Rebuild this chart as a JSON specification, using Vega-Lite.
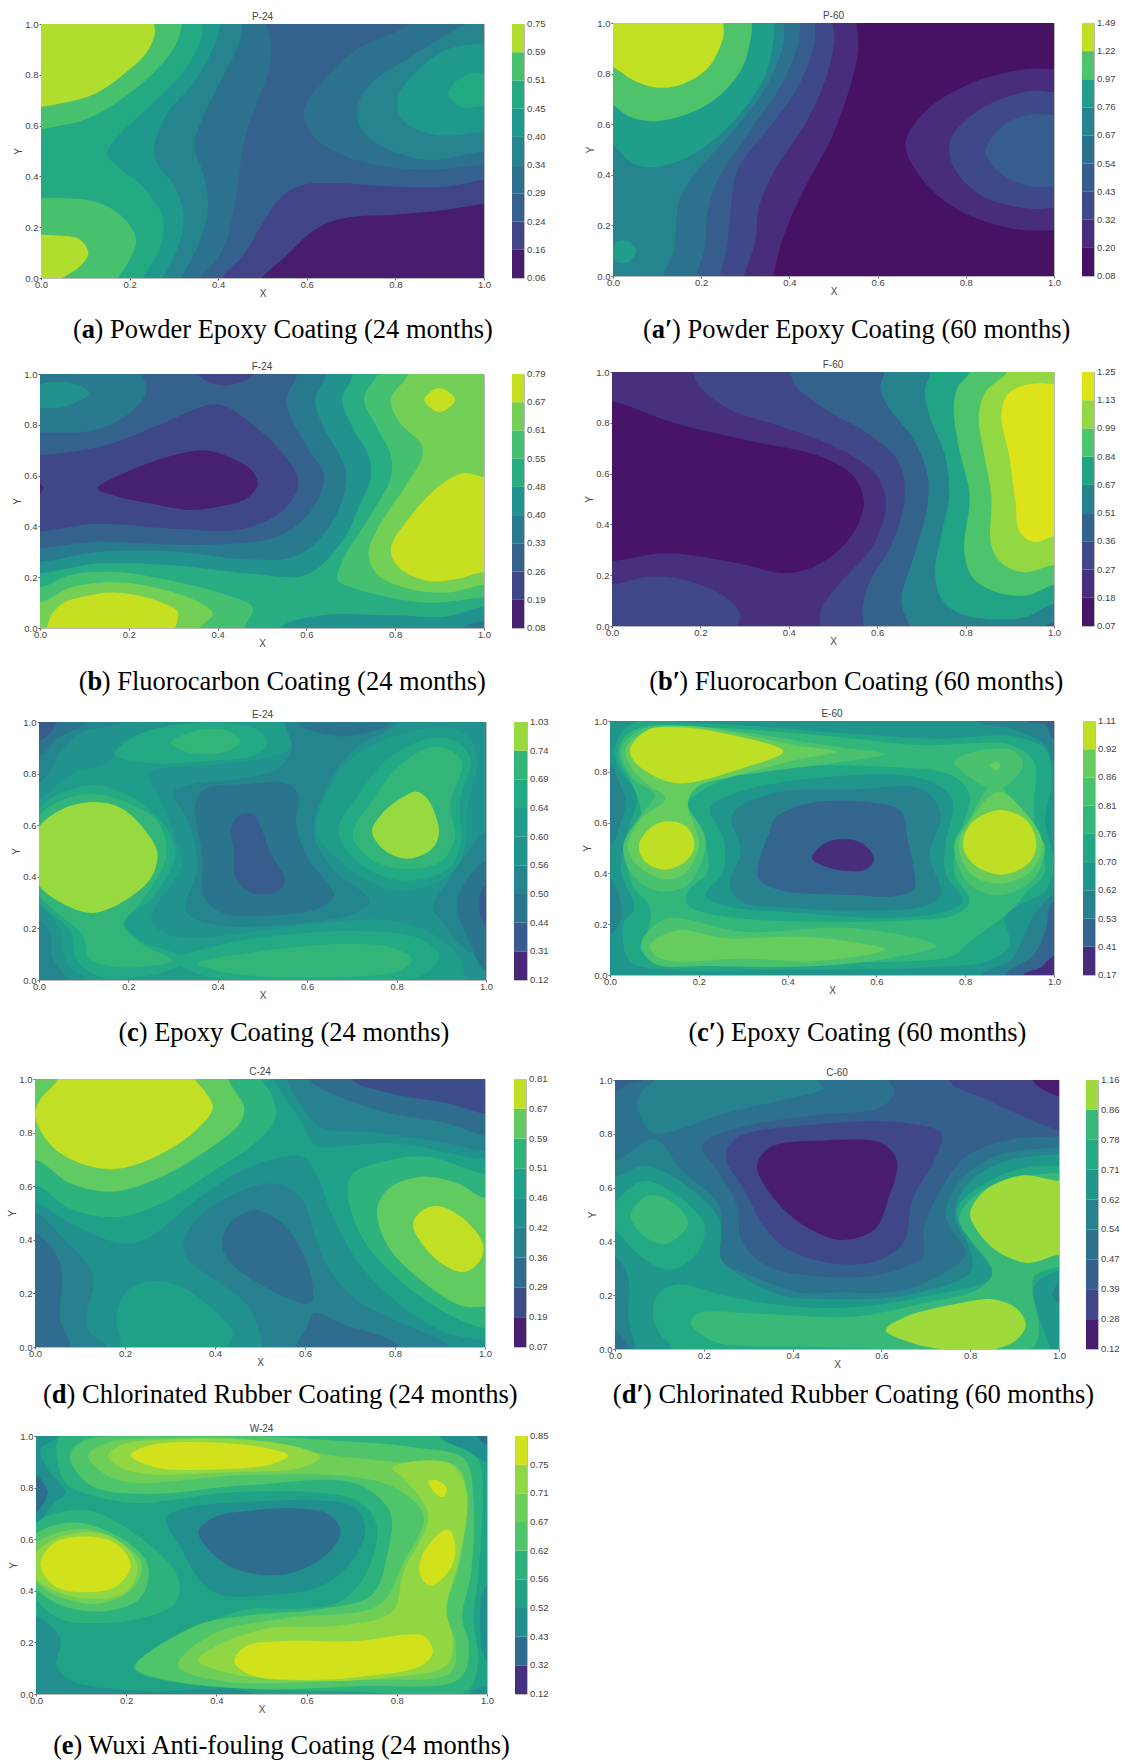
{"$schema":"https://vega.github.io/schema/vega-lite/v6.json","padding":{"left":7,"top":10,"right":0,"bottom":0},"bounds":"flush","spacing":0,"resolve":{"scale":{"color":"independent"}},"config":{"view":{"stroke":null},"title":{"font":"Liberation Sans","fontSize":10,"fontWeight":"normal","color":"#444","offset":-3},"text":{"font":"Liberation Serif","fontSize":26.5,"align":"left","baseline":"alphabetic","color":"#000"},"axis":{"grid":false,"domain":false,"tickSize":2,"tickColor":"#666","labelFont":"Liberation Sans","labelFontSize":9.5,"labelColor":"#444","titleFont":"Liberation Sans","titleFontSize":10,"titleFontWeight":"normal","titleColor":"#444","labelPadding":1,"labelOverlap":false,"labelFlush":false}},
"datasets":{
"a":[{"v":0.27,"x":-0.2,"y":-0.2},{"v":0.27,"x":1.2,"y":-0.2},{"v":0.27,"x":1.2,"y":1.2},{"v":0.27,"x":-0.2,"y":1.2},
{"v":0.32,"g":1,"x":0.36,"y":0},{"v":0.32,"g":1,"x":0.41,"y":0.11},{"v":0.32,"g":1,"x":0.435,"y":0.27},{"v":0.32,"g":1,"x":0.45,"y":0.44},{"v":0.32,"g":1,"x":0.463,"y":0.57},{"v":0.32,"g":1,"x":0.49,"y":0.7},{"v":0.32,"g":1,"x":0.516,"y":0.83},{"v":0.32,"g":1,"x":0.52,"y":0.92},{"v":0.32,"g":1,"x":0.508,"y":1},{"v":0.32,"g":1,"x":0.5,"y":1.05},{"v":0.32,"g":1,"x":-0.1,"y":1.1},{"v":0.32,"g":1,"x":-0.1,"y":-0.1},{"v":0.32,"g":1,"x":0.34,"y":-0.05},
{"v":0.32,"g":2,"x":0.83,"y":1},{"v":0.32,"g":2,"x":0.713,"y":0.9},{"v":0.32,"g":2,"x":0.633,"y":0.767},{"v":0.32,"g":2,"x":0.594,"y":0.662},{"v":0.32,"g":2,"x":0.609,"y":0.57},{"v":0.32,"g":2,"x":0.673,"y":0.49},{"v":0.32,"g":2,"x":0.754,"y":0.446},{"v":0.32,"g":2,"x":0.875,"y":0.426},{"v":0.32,"g":2,"x":1,"y":0.446},{"v":0.32,"g":2,"x":1.1,"y":0.46},{"v":0.32,"g":2,"x":1.1,"y":1.1},{"v":0.32,"g":2,"x":0.85,"y":1.08},
{"v":0.37,"g":1,"x":0.316,"y":0},{"v":0.37,"g":1,"x":0.354,"y":0.125},{"v":0.37,"g":1,"x":0.377,"y":0.282},{"v":0.37,"g":1,"x":0.366,"y":0.413},{"v":0.37,"g":1,"x":0.346,"y":0.518},{"v":0.37,"g":1,"x":0.366,"y":0.636},{"v":0.37,"g":1,"x":0.407,"y":0.78},{"v":0.37,"g":1,"x":0.447,"y":0.924},{"v":0.37,"g":1,"x":0.454,"y":1},{"v":0.37,"g":1,"x":0.45,"y":1.1},{"v":0.37,"g":1,"x":-0.1,"y":1.1},{"v":0.37,"g":1,"x":-0.1,"y":-0.1},{"v":0.37,"g":1,"x":0.3,"y":-0.06},
{"v":0.37,"g":2,"x":0.96,"y":1},{"v":0.37,"g":2,"x":0.835,"y":0.871},{"v":0.37,"g":2,"x":0.746,"y":0.767},{"v":0.37,"g":2,"x":0.713,"y":0.668},{"v":0.37,"g":2,"x":0.73,"y":0.57},{"v":0.37,"g":2,"x":0.786,"y":0.505},{"v":0.37,"g":2,"x":0.875,"y":0.465},{"v":0.37,"g":2,"x":1,"y":0.498},{"v":0.37,"g":2,"x":1.1,"y":0.5},{"v":0.37,"g":2,"x":1.1,"y":1.1},
{"v":0.43,"g":1,"x":0.274,"y":0},{"v":0.43,"g":1,"x":0.31,"y":0.125},{"v":0.43,"g":1,"x":0.322,"y":0.242},{"v":0.43,"g":1,"x":0.302,"y":0.36},{"v":0.43,"g":1,"x":0.262,"y":0.452},{"v":0.43,"g":1,"x":0.256,"y":0.518},{"v":0.43,"g":1,"x":0.286,"y":0.649},{"v":0.43,"g":1,"x":0.35,"y":0.78},{"v":0.43,"g":1,"x":0.39,"y":0.911},{"v":0.43,"g":1,"x":0.405,"y":1},{"v":0.43,"g":1,"x":0.4,"y":1.1},{"v":0.43,"g":1,"x":-0.1,"y":1.1},{"v":0.43,"g":1,"x":-0.1,"y":-0.1},{"v":0.43,"g":1,"x":0.26,"y":-0.06},
{"v":0.43,"g":2,"x":1,"y":0.924},{"v":0.43,"g":2,"x":0.915,"y":0.898},{"v":0.43,"g":2,"x":0.851,"y":0.819},{"v":0.43,"g":2,"x":0.806,"y":0.714},{"v":0.43,"g":2,"x":0.81,"y":0.636},{"v":0.43,"g":2,"x":0.851,"y":0.583},{"v":0.43,"g":2,"x":0.915,"y":0.56},{"v":0.43,"g":2,"x":1,"y":0.577},{"v":0.43,"g":2,"x":1.1,"y":0.58},{"v":0.43,"g":2,"x":1.1,"y":0.92},
{"v":0.48,"g":1,"x":0.229,"y":0},{"v":0.48,"g":1,"x":0.27,"y":0.125},{"v":0.48,"g":1,"x":0.274,"y":0.242},{"v":0.48,"g":1,"x":0.229,"y":0.36},{"v":0.48,"g":1,"x":0.173,"y":0.439},{"v":0.48,"g":1,"x":0.149,"y":0.491},{"v":0.48,"g":1,"x":0.173,"y":0.557},{"v":0.48,"g":1,"x":0.245,"y":0.675},{"v":0.48,"g":1,"x":0.318,"y":0.806},{"v":0.48,"g":1,"x":0.358,"y":0.924},{"v":0.48,"g":1,"x":0.365,"y":1},{"v":0.48,"g":1,"x":0.36,"y":1.1},{"v":0.48,"g":1,"x":-0.1,"y":1.1},{"v":0.48,"g":1,"x":-0.1,"y":-0.1},{"v":0.48,"g":1,"x":0.21,"y":-0.06},
{"v":0.48,"g":2,"x":1,"y":0.806},{"v":0.48,"g":2,"x":0.956,"y":0.796},{"v":0.48,"g":2,"x":0.919,"y":0.727},{"v":0.48,"g":2,"x":0.947,"y":0.675},{"v":0.48,"g":2,"x":1,"y":0.681},{"v":0.48,"g":2,"x":1.05,"y":0.74},
{"v":0.55,"g":1,"x":-0.05,"y":0.6},{"v":0.55,"g":1,"x":0.052,"y":0.603},{"v":0.55,"g":1,"x":0.116,"y":0.636},{"v":0.55,"g":1,"x":0.189,"y":0.714},{"v":0.55,"g":1,"x":0.253,"y":0.806},{"v":0.55,"g":1,"x":0.302,"y":0.911},{"v":0.55,"g":1,"x":0.318,"y":1},{"v":0.55,"g":1,"x":0.31,"y":1.1},{"v":0.55,"g":1,"x":-0.1,"y":1.1},
{"v":0.55,"g":2,"x":-0.05,"y":0.28},{"v":0.55,"g":2,"x":0.08,"y":0.312},{"v":0.55,"g":2,"x":0.149,"y":0.282},{"v":0.55,"g":2,"x":0.197,"y":0.216},{"v":0.55,"g":2,"x":0.215,"y":0.144},{"v":0.55,"g":2,"x":0.2,"y":0.072},{"v":0.55,"g":2,"x":0.173,"y":0},{"v":0.55,"g":2,"x":0.15,"y":-0.06},{"v":0.55,"g":2,"x":-0.1,"y":-0.1},
{"v":0.67,"g":1,"x":-0.05,"y":0.688},{"v":0.67,"g":1,"x":0.052,"y":0.69},{"v":0.67,"g":1,"x":0.124,"y":0.727},{"v":0.67,"g":1,"x":0.189,"y":0.806},{"v":0.67,"g":1,"x":0.237,"y":0.885},{"v":0.67,"g":1,"x":0.257,"y":0.962},{"v":0.67,"g":1,"x":0.255,"y":1},{"v":0.67,"g":1,"x":0.24,"y":1.1},{"v":0.67,"g":1,"x":-0.1,"y":1.1},
{"v":0.67,"g":2,"x":-0.05,"y":0.15},{"v":0.67,"g":2,"x":0.048,"y":0.166},{"v":0.67,"g":2,"x":0.088,"y":0.151},{"v":0.67,"g":2,"x":0.107,"y":0.098},{"v":0.67,"g":2,"x":0.088,"y":0.046},{"v":0.67,"g":2,"x":0.048,"y":0},{"v":0.67,"g":2,"x":0.02,"y":-0.03},{"v":0.67,"g":2,"x":-0.1,"y":-0.05},
{"v":0.2,"x":0.407,"y":0},{"v":0.2,"x":0.455,"y":0.085},{"v":0.2,"x":0.496,"y":0.203},{"v":0.2,"x":0.544,"y":0.321},{"v":0.2,"x":0.592,"y":0.367},{"v":0.2,"x":0.673,"y":0.373},{"v":0.2,"x":0.794,"y":0.36},{"v":0.2,"x":0.915,"y":0.36},{"v":0.2,"x":1,"y":0.387},{"v":0.2,"x":1.1,"y":0.39},{"v":0.2,"x":1.1,"y":-0.1},{"v":0.2,"x":0.4,"y":-0.06},
{"v":0.11,"x":0.497,"y":0},{"v":0.11,"x":0.552,"y":0.085},{"v":0.11,"x":0.608,"y":0.177},{"v":0.11,"x":0.657,"y":0.223},{"v":0.11,"x":0.713,"y":0.242},{"v":0.11,"x":0.794,"y":0.249},{"v":0.11,"x":0.915,"y":0.269},{"v":0.11,"x":1,"y":0.291},{"v":0.11,"x":1.1,"y":0.3},{"v":0.11,"x":1.1,"y":-0.1},{"v":0.11,"x":0.47,"y":-0.06}],
"ap":[{"v":0.14,"x":-0.2,"y":-0.2},{"v":0.14,"x":1.2,"y":-0.2},{"v":0.14,"x":1.2,"y":1.2},{"v":0.14,"x":-0.2,"y":1.2},
{"v":0.26,"x":0.553,"y":1},{"v":0.26,"x":0.556,"y":0.892},{"v":0.26,"x":0.533,"y":0.721},{"v":0.26,"x":0.493,"y":0.536},{"v":0.26,"x":0.444,"y":0.378},{"v":0.26,"x":0.404,"y":0.233},{"v":0.26,"x":0.379,"y":0.115},{"v":0.26,"x":0.363,"y":0},{"v":0.26,"x":0.35,"y":-0.1},{"v":0.26,"x":-0.1,"y":-0.1},{"v":0.26,"x":-0.1,"y":1.1},{"v":0.26,"x":0.55,"y":1.1},
{"v":0.38,"x":0.498,"y":1},{"v":0.38,"x":0.502,"y":0.93},{"v":0.38,"x":0.481,"y":0.773},{"v":0.38,"x":0.436,"y":0.602},{"v":0.38,"x":0.371,"y":0.431},{"v":0.38,"x":0.331,"y":0.273},{"v":0.38,"x":0.323,"y":0.141},{"v":0.38,"x":0.297,"y":0},{"v":0.38,"x":0.28,"y":-0.1},{"v":0.38,"x":-0.1,"y":-0.1},{"v":0.38,"x":-0.1,"y":1.1},{"v":0.38,"x":0.49,"y":1.1},
{"v":0.49,"x":0.458,"y":1},{"v":0.49,"x":0.456,"y":0.918},{"v":0.49,"x":0.42,"y":0.747},{"v":0.49,"x":0.355,"y":0.589},{"v":0.49,"x":0.282,"y":0.418},{"v":0.49,"x":0.266,"y":0.246},{"v":0.49,"x":0.258,"y":0.115},{"v":0.49,"x":0.243,"y":0},{"v":0.49,"x":0.23,"y":-0.1},{"v":0.49,"x":-0.1,"y":-0.1},{"v":0.49,"x":-0.1,"y":1.1},{"v":0.49,"x":0.45,"y":1.1},
{"v":0.61,"x":0.424,"y":1},{"v":0.61,"x":0.42,"y":0.918},{"v":0.61,"x":0.379,"y":0.747},{"v":0.61,"x":0.306,"y":0.563},{"v":0.61,"x":0.233,"y":0.365},{"v":0.61,"x":0.213,"y":0.233},{"v":0.61,"x":0.209,"y":0.115},{"v":0.61,"x":0.189,"y":0},{"v":0.61,"x":0.18,"y":-0.1},{"v":0.61,"x":-0.1,"y":-0.1},{"v":0.61,"x":-0.1,"y":1.1},{"v":0.61,"x":0.42,"y":1.1},
{"v":0.72,"x":0.387,"y":1},{"v":0.72,"x":0.386,"y":0.918},{"v":0.72,"x":0.347,"y":0.747},{"v":0.72,"x":0.274,"y":0.576},{"v":0.72,"x":0.193,"y":0.418},{"v":0.72,"x":0.152,"y":0.312},{"v":0.72,"x":0.143,"y":0.194},{"v":0.72,"x":0.136,"y":0.088},{"v":0.72,"x":0.112,"y":0},{"v":0.72,"x":0.1,"y":-0.1},{"v":0.72,"x":-0.1,"y":-0.1},{"v":0.72,"x":-0.1,"y":1.1},{"v":0.72,"x":0.38,"y":1.1},
{"v":0.87,"x":0.365,"y":1},{"v":0.87,"x":0.365,"y":0.958},{"v":0.87,"x":0.347,"y":0.8},{"v":0.87,"x":0.282,"y":0.628},{"v":0.87,"x":0.185,"y":0.484},{"v":0.87,"x":0.096,"y":0.431},{"v":0.87,"x":0.047,"y":0.444},{"v":0.87,"x":0,"y":0.516},{"v":0.87,"x":-0.1,"y":0.6},{"v":0.87,"x":-0.1,"y":1.1},{"v":0.87,"x":0.36,"y":1.1},
{"v":0.87,"g":1,"x":-0.01,"y":0.09},{"v":0.87,"g":1,"x":0.01,"y":0.135},{"v":0.87,"g":1,"x":0.035,"y":0.137},{"v":0.87,"g":1,"x":0.053,"y":0.1},{"v":0.87,"g":1,"x":0.035,"y":0.055},{"v":0.87,"g":1,"x":0.01,"y":0.055},
{"v":1.1,"x":0.314,"y":1},{"v":1.1,"x":0.314,"y":0.958},{"v":1.1,"x":0.29,"y":0.813},{"v":1.1,"x":0.217,"y":0.681},{"v":1.1,"x":0.104,"y":0.613},{"v":1.1,"x":0.039,"y":0.628},{"v":1.1,"x":0,"y":0.675},{"v":1.1,"x":-0.1,"y":0.75},{"v":1.1,"x":-0.1,"y":1.1},{"v":1.1,"x":0.31,"y":1.1},
{"v":1.36,"x":0.25,"y":1},{"v":1.36,"x":0.25,"y":0.945},{"v":1.36,"x":0.217,"y":0.826},{"v":1.36,"x":0.16,"y":0.76},{"v":1.36,"x":0.104,"y":0.744},{"v":1.36,"x":0.047,"y":0.773},{"v":1.36,"x":0,"y":0.826},{"v":1.36,"x":-0.1,"y":0.9},{"v":1.36,"x":-0.1,"y":1.1},{"v":1.36,"x":0.24,"y":1.1},
{"v":0.26,"g":1,"x":1,"y":0.817},{"v":0.26,"g":1,"x":0.93,"y":0.816},{"v":0.26,"g":1,"x":0.809,"y":0.76},{"v":0.26,"g":1,"x":0.711,"y":0.655},{"v":0.26,"g":1,"x":0.663,"y":0.523},{"v":0.26,"g":1,"x":0.703,"y":0.378},{"v":0.26,"g":1,"x":0.784,"y":0.26},{"v":0.26,"g":1,"x":0.906,"y":0.187},{"v":0.26,"g":1,"x":1,"y":0.18},{"v":0.26,"g":1,"x":1.1,"y":0.18},{"v":0.26,"g":1,"x":1.1,"y":0.82},
{"v":0.38,"g":1,"x":1,"y":0.727},{"v":0.38,"g":1,"x":0.947,"y":0.731},{"v":0.38,"g":1,"x":0.841,"y":0.668},{"v":0.38,"g":1,"x":0.772,"y":0.563},{"v":0.38,"g":1,"x":0.762,"y":0.51},{"v":0.38,"g":1,"x":0.776,"y":0.418},{"v":0.38,"g":1,"x":0.841,"y":0.312},{"v":0.38,"g":1,"x":0.947,"y":0.266},{"v":0.38,"g":1,"x":1,"y":0.269},{"v":0.38,"g":1,"x":1.1,"y":0.27},{"v":0.38,"g":1,"x":1.1,"y":0.73},
{"v":0.49,"g":1,"x":1,"y":0.635},{"v":0.49,"g":1,"x":0.955,"y":0.639},{"v":0.49,"g":1,"x":0.89,"y":0.602},{"v":0.49,"g":1,"x":0.845,"y":0.497},{"v":0.49,"g":1,"x":0.874,"y":0.411},{"v":0.49,"g":1,"x":0.938,"y":0.358},{"v":0.49,"g":1,"x":1,"y":0.354},{"v":0.49,"g":1,"x":1.1,"y":0.35},{"v":0.49,"g":1,"x":1.1,"y":0.64}],
"b":[{"v":0.52,"x":-0.2,"y":-0.2},{"v":0.52,"x":1.2,"y":-0.2},{"v":0.52,"x":1.2,"y":1.2},{"v":0.52,"x":-0.2,"y":1.2},
{"v":0.58,"g":1,"x":0.76,"y":1},{"v":0.58,"g":1,"x":0.73,"y":0.904},{"v":0.58,"g":1,"x":0.76,"y":0.786},{"v":0.58,"g":1,"x":0.79,"y":0.68},{"v":0.58,"g":1,"x":0.79,"y":0.59},{"v":0.58,"g":1,"x":0.75,"y":0.46},{"v":0.58,"g":1,"x":0.68,"y":0.26},{"v":0.58,"g":1,"x":0.67,"y":0.19},{"v":0.58,"g":1,"x":0.71,"y":0.155},{"v":0.58,"g":1,"x":0.87,"y":0.1},{"v":0.58,"g":1,"x":1,"y":0.12},{"v":0.58,"g":1,"x":1.1,"y":0.12},{"v":0.58,"g":1,"x":1.1,"y":1.1},{"v":0.58,"g":1,"x":0.77,"y":1.1},
{"v":0.58,"g":2,"x":0,"y":0.16},{"v":0.58,"g":2,"x":0.07,"y":0.21},{"v":0.58,"g":2,"x":0.175,"y":0.22},{"v":0.58,"g":2,"x":0.31,"y":0.18},{"v":0.58,"g":2,"x":0.42,"y":0.13},{"v":0.58,"g":2,"x":0.48,"y":0.08},{"v":0.58,"g":2,"x":0.46,"y":0},{"v":0.58,"g":2,"x":0.45,"y":-0.1},{"v":0.58,"g":2,"x":-0.1,"y":-0.1},{"v":0.58,"g":2,"x":-0.1,"y":0.16},
{"v":0.64,"g":1,"x":0.83,"y":1},{"v":0.64,"g":1,"x":0.79,"y":0.9},{"v":0.64,"g":1,"x":0.81,"y":0.81},{"v":0.64,"g":1,"x":0.86,"y":0.72},{"v":0.64,"g":1,"x":0.86,"y":0.67},{"v":0.64,"g":1,"x":0.82,"y":0.55},{"v":0.64,"g":1,"x":0.76,"y":0.39},{"v":0.64,"g":1,"x":0.74,"y":0.29},{"v":0.64,"g":1,"x":0.76,"y":0.21},{"v":0.64,"g":1,"x":0.83,"y":0.155},{"v":0.64,"g":1,"x":0.92,"y":0.14},{"v":0.64,"g":1,"x":1,"y":0.17},{"v":0.64,"g":1,"x":1.1,"y":0.17},{"v":0.64,"g":1,"x":1.1,"y":1.1},{"v":0.64,"g":1,"x":0.84,"y":1.1},
{"v":0.64,"g":2,"x":0,"y":0.1},{"v":0.64,"g":2,"x":0.07,"y":0.16},{"v":0.64,"g":2,"x":0.17,"y":0.18},{"v":0.64,"g":2,"x":0.27,"y":0.155},{"v":0.64,"g":2,"x":0.36,"y":0.1},{"v":0.64,"g":2,"x":0.39,"y":0.055},{"v":0.64,"g":2,"x":0.36,"y":0},{"v":0.64,"g":2,"x":0.35,"y":-0.1},{"v":0.64,"g":2,"x":-0.1,"y":-0.1},{"v":0.64,"g":2,"x":-0.1,"y":0.1},
{"v":0.73,"g":1,"x":1,"y":0.595},{"v":0.73,"g":1,"x":0.955,"y":0.61},{"v":0.73,"g":1,"x":0.9,"y":0.56},{"v":0.73,"g":1,"x":0.83,"y":0.43},{"v":0.73,"g":1,"x":0.79,"y":0.31},{"v":0.73,"g":1,"x":0.81,"y":0.235},{"v":0.73,"g":1,"x":0.875,"y":0.185},{"v":0.73,"g":1,"x":0.945,"y":0.195},{"v":0.73,"g":1,"x":1,"y":0.22},{"v":0.73,"g":1,"x":1.1,"y":0.2},{"v":0.73,"g":1,"x":1.1,"y":0.6},
{"v":0.73,"g":2,"x":0.865,"y":0.9},{"v":0.73,"g":2,"x":0.9,"y":0.945},{"v":0.73,"g":2,"x":0.935,"y":0.9},{"v":0.73,"g":2,"x":0.9,"y":0.85},
{"v":0.73,"g":3,"x":0.02,"y":-0.03},{"v":0.73,"g":3,"x":0.02,"y":0.03},{"v":0.73,"g":3,"x":0.05,"y":0.095},{"v":0.73,"g":3,"x":0.1,"y":0.125},{"v":0.73,"g":3,"x":0.165,"y":0.14},{"v":0.73,"g":3,"x":0.25,"y":0.115},{"v":0.73,"g":3,"x":0.31,"y":0.065},{"v":0.73,"g":3,"x":0.31,"y":0.035},{"v":0.73,"g":3,"x":0.29,"y":-0.03},
{"v":0.44,"g":1,"x":0.705,"y":1},{"v":0.44,"g":1,"x":0.68,"y":0.9},{"v":0.44,"g":1,"x":0.705,"y":0.786},{"v":0.44,"g":1,"x":0.74,"y":0.68},{"v":0.44,"g":1,"x":0.745,"y":0.59},{"v":0.44,"g":1,"x":0.72,"y":0.485},{"v":0.44,"g":1,"x":0.68,"y":0.34},{"v":0.44,"g":1,"x":0.6,"y":0.21},{"v":0.44,"g":1,"x":0.47,"y":0.215},{"v":0.44,"g":1,"x":0.31,"y":0.245},{"v":0.44,"g":1,"x":0.135,"y":0.255},{"v":0.44,"g":1,"x":0,"y":0.215},{"v":0.44,"g":1,"x":-0.1,"y":0.215},{"v":0.44,"g":1,"x":-0.1,"y":1.1},{"v":0.44,"g":1,"x":0.7,"y":1.1},
{"v":0.44,"g":2,"x":0.54,"y":0},{"v":0.44,"g":2,"x":0.635,"y":0.05},{"v":0.44,"g":2,"x":0.795,"y":0.05},{"v":0.44,"g":2,"x":0.915,"y":0.045},{"v":0.44,"g":2,"x":1,"y":0.085},{"v":0.44,"g":2,"x":1.1,"y":0.09},{"v":0.44,"g":2,"x":1.1,"y":-0.1},{"v":0.44,"g":2,"x":0.52,"y":-0.1},
{"v":0.37,"g":1,"x":0.645,"y":1},{"v":0.37,"g":1,"x":0.62,"y":0.9},{"v":0.37,"g":1,"x":0.64,"y":0.786},{"v":0.37,"g":1,"x":0.675,"y":0.68},{"v":0.37,"g":1,"x":0.69,"y":0.6},{"v":0.37,"g":1,"x":0.66,"y":0.42},{"v":0.37,"g":1,"x":0.58,"y":0.285},{"v":0.37,"g":1,"x":0.47,"y":0.27},{"v":0.37,"g":1,"x":0.31,"y":0.3},{"v":0.37,"g":1,"x":0.135,"y":0.3},{"v":0.37,"g":1,"x":0,"y":0.26},{"v":0.37,"g":1,"x":-0.1,"y":0.26},{"v":0.37,"g":1,"x":-0.1,"y":1.1},{"v":0.37,"g":1,"x":0.64,"y":1.1},
{"v":0.37,"g":2,"x":0.955,"y":0},{"v":0.37,"g":2,"x":1,"y":0.03},{"v":0.37,"g":2,"x":1.1,"y":0.03},{"v":0.37,"g":2,"x":1.1,"y":-0.1},{"v":0.37,"g":2,"x":0.94,"y":-0.1},
{"v":0.44,"g":3,"x":-0.02,"y":0.94},{"v":0.44,"g":3,"x":0.05,"y":0.97},{"v":0.44,"g":3,"x":0.105,"y":0.94},{"v":0.44,"g":3,"x":0.11,"y":0.92},{"v":0.44,"g":3,"x":0.07,"y":0.88},{"v":0.44,"g":3,"x":0.03,"y":0.865},{"v":0.44,"g":3,"x":-0.02,"y":0.88},
{"v":0.3,"x":0.58,"y":1},{"v":0.3,"x":0.555,"y":0.9},{"v":0.3,"x":0.57,"y":0.81},{"v":0.3,"x":0.61,"y":0.69},{"v":0.3,"x":0.64,"y":0.6},{"v":0.3,"x":0.61,"y":0.46},{"v":0.3,"x":0.535,"y":0.36},{"v":0.3,"x":0.41,"y":0.33},{"v":0.3,"x":0.27,"y":0.33},{"v":0.3,"x":0.125,"y":0.34},{"v":0.3,"x":0,"y":0.315},{"v":0.3,"x":-0.1,"y":0.315},{"v":0.3,"x":-0.1,"y":0.77},{"v":0.3,"x":0,"y":0.77},{"v":0.3,"x":0.11,"y":0.775},{"v":0.3,"x":0.19,"y":0.83},{"v":0.3,"x":0.24,"y":0.93},{"v":0.3,"x":0.23,"y":1},{"v":0.3,"x":0.23,"y":1.1},{"v":0.3,"x":0.58,"y":1.1},
{"v":0.23,"g":1,"x":0,"y":0.38},{"v":0.23,"g":1,"x":0.125,"y":0.41},{"v":0.23,"g":1,"x":0.31,"y":0.39},{"v":0.23,"g":1,"x":0.455,"y":0.39},{"v":0.23,"g":1,"x":0.545,"y":0.46},{"v":0.23,"g":1,"x":0.58,"y":0.55},{"v":0.23,"g":1,"x":0.58,"y":0.6},{"v":0.23,"g":1,"x":0.545,"y":0.69},{"v":0.23,"g":1,"x":0.49,"y":0.785},{"v":0.23,"g":1,"x":0.4,"y":0.88},{"v":0.23,"g":1,"x":0.27,"y":0.8},{"v":0.23,"g":1,"x":0.15,"y":0.72},{"v":0.23,"g":1,"x":0,"y":0.68},{"v":0.23,"g":1,"x":-0.1,"y":0.68},{"v":0.23,"g":1,"x":-0.1,"y":0.38},
{"v":0.23,"g":2,"x":0.355,"y":1},{"v":0.23,"g":2,"x":0.415,"y":0.955},{"v":0.23,"g":2,"x":0.48,"y":1},{"v":0.23,"g":2,"x":0.48,"y":1.1},{"v":0.23,"g":2,"x":0.355,"y":1.1},
{"v":0.14,"g":1,"x":0.13,"y":0.55},{"v":0.14,"g":1,"x":0.19,"y":0.61},{"v":0.14,"g":1,"x":0.29,"y":0.675},{"v":0.14,"g":1,"x":0.37,"y":0.7},{"v":0.14,"g":1,"x":0.43,"y":0.67},{"v":0.14,"g":1,"x":0.48,"y":0.615},{"v":0.14,"g":1,"x":0.49,"y":0.56},{"v":0.14,"g":1,"x":0.465,"y":0.51},{"v":0.14,"g":1,"x":0.41,"y":0.48},{"v":0.14,"g":1,"x":0.335,"y":0.465},{"v":0.14,"g":1,"x":0.25,"y":0.49},{"v":0.14,"g":1,"x":0.17,"y":0.52},
{"v":0.14,"g":2,"x":-0.01,"y":0.58},{"v":0.14,"g":2,"x":0.008,"y":0.55},{"v":0.14,"g":2,"x":-0.01,"y":0.52}],
"bp":[{"v":0.23,"x":-0.2,"y":-0.2},{"v":0.23,"x":1.2,"y":-0.2},{"v":0.23,"x":1.2,"y":1.2},{"v":0.23,"x":-0.2,"y":1.2},
{"v":0.13,"x":0,"y":0.885},{"v":0.13,"x":0.139,"y":0.8},{"v":0.13,"x":0.317,"y":0.727},{"v":0.13,"x":0.462,"y":0.673},{"v":0.13,"x":0.543,"y":0.595},{"v":0.13,"x":0.57,"y":0.49},{"v":0.13,"x":0.543,"y":0.358},{"v":0.13,"x":0.478,"y":0.253},{"v":0.13,"x":0.397,"y":0.208},{"v":0.13,"x":0.284,"y":0.247},{"v":0.13,"x":0.123,"y":0.286},{"v":0.13,"x":0,"y":0.256},{"v":0.13,"x":-0.1,"y":0.26},{"v":0.13,"x":-0.1,"y":0.89},
{"v":0.32,"g":1,"x":0.185,"y":1},{"v":0.32,"g":1,"x":0.195,"y":0.95},{"v":0.32,"g":1,"x":0.26,"y":0.858},{"v":0.32,"g":1,"x":0.381,"y":0.786},{"v":0.32,"g":1,"x":0.502,"y":0.707},{"v":0.32,"g":1,"x":0.591,"y":0.608},{"v":0.32,"g":1,"x":0.62,"y":0.49},{"v":0.32,"g":1,"x":0.591,"y":0.319},{"v":0.32,"g":1,"x":0.519,"y":0.175},{"v":0.32,"g":1,"x":0.474,"y":0.07},{"v":0.32,"g":1,"x":0.47,"y":0},{"v":0.32,"g":1,"x":0.47,"y":-0.1},{"v":0.32,"g":1,"x":1.1,"y":-0.1},{"v":0.32,"g":1,"x":1.1,"y":1.1},{"v":0.32,"g":1,"x":0.185,"y":1.1},
{"v":0.32,"g":2,"x":0,"y":0.162},{"v":0.32,"g":2,"x":0.09,"y":0.195},{"v":0.32,"g":2,"x":0.179,"y":0.175},{"v":0.32,"g":2,"x":0.26,"y":0.109},{"v":0.32,"g":2,"x":0.292,"y":0.042},{"v":0.32,"g":2,"x":0.283,"y":0},{"v":0.32,"g":2,"x":0.28,"y":-0.1},{"v":0.32,"g":2,"x":-0.1,"y":-0.1},{"v":0.32,"g":2,"x":-0.1,"y":0.16},
{"v":0.44,"x":0.404,"y":1},{"v":0.44,"x":0.414,"y":0.95},{"v":0.44,"x":0.478,"y":0.858},{"v":0.44,"x":0.583,"y":0.753},{"v":0.44,"x":0.648,"y":0.648},{"v":0.44,"x":0.662,"y":0.503},{"v":0.44,"x":0.632,"y":0.319},{"v":0.44,"x":0.583,"y":0.175},{"v":0.44,"x":0.567,"y":0.07},{"v":0.44,"x":0.569,"y":0},{"v":0.44,"x":0.57,"y":-0.1},{"v":0.44,"x":1.1,"y":-0.1},{"v":0.44,"x":1.1,"y":1.1},{"v":0.44,"x":0.404,"y":1.1},
{"v":0.59,"x":0.616,"y":1},{"v":0.59,"x":0.607,"y":0.937},{"v":0.59,"x":0.632,"y":0.845},{"v":0.59,"x":0.68,"y":0.74},{"v":0.59,"x":0.712,"y":0.608},{"v":0.59,"x":0.714,"y":0.477},{"v":0.59,"x":0.684,"y":0.28},{"v":0.59,"x":0.656,"y":0.122},{"v":0.59,"x":0.66,"y":0.056},{"v":0.59,"x":0.674,"y":0},{"v":0.59,"x":0.68,"y":-0.1},{"v":0.59,"x":1.1,"y":-0.1},{"v":0.59,"x":1.1,"y":1.1},{"v":0.59,"x":0.616,"y":1.1},
{"v":0.76,"x":0.72,"y":1},{"v":0.76,"x":0.708,"y":0.924},{"v":0.76,"x":0.72,"y":0.819},{"v":0.76,"x":0.753,"y":0.674},{"v":0.76,"x":0.763,"y":0.516},{"v":0.76,"x":0.745,"y":0.358},{"v":0.76,"x":0.731,"y":0.214},{"v":0.76,"x":0.745,"y":0.109},{"v":0.76,"x":0.785,"y":0.05},{"v":0.76,"x":0.866,"y":0.026},{"v":0.76,"x":0.939,"y":0.037},{"v":0.76,"x":1,"y":0.089},{"v":0.76,"x":1.1,"y":0.09},{"v":0.76,"x":1.1,"y":1.1},{"v":0.76,"x":0.72,"y":1.1},
{"v":0.92,"x":0.809,"y":1},{"v":0.92,"x":0.781,"y":0.937},{"v":0.92,"x":0.773,"y":0.858},{"v":0.92,"x":0.785,"y":0.7},{"v":0.92,"x":0.809,"y":0.516},{"v":0.92,"x":0.797,"y":0.293},{"v":0.92,"x":0.817,"y":0.188},{"v":0.92,"x":0.866,"y":0.136},{"v":0.92,"x":0.939,"y":0.12},{"v":0.92,"x":1,"y":0.162},{"v":0.92,"x":1.1,"y":0.17},{"v":0.92,"x":1.1,"y":1.1},{"v":0.92,"x":0.81,"y":1.1},
{"v":1.06,"x":0.893,"y":1},{"v":1.06,"x":0.846,"y":0.924},{"v":1.06,"x":0.83,"y":0.832},{"v":1.06,"x":0.842,"y":0.674},{"v":1.06,"x":0.858,"y":0.516},{"v":1.06,"x":0.858,"y":0.319},{"v":1.06,"x":0.882,"y":0.247},{"v":1.06,"x":0.931,"y":0.212},{"v":1.06,"x":1,"y":0.24},{"v":1.06,"x":1.1,"y":0.25},{"v":1.06,"x":1.1,"y":1.1},{"v":1.06,"x":0.895,"y":1.1},
{"v":1.19,"x":1,"y":0.953},{"v":1.19,"x":0.947,"y":0.953},{"v":1.19,"x":0.898,"y":0.917},{"v":1.19,"x":0.881,"y":0.832},{"v":1.19,"x":0.898,"y":0.674},{"v":1.19,"x":0.913,"y":0.49},{"v":1.19,"x":0.922,"y":0.372},{"v":1.19,"x":0.955,"y":0.33},{"v":1.19,"x":1,"y":0.352},{"v":1.19,"x":1.1,"y":0.36},{"v":1.19,"x":1.1,"y":0.95},
{"v":0.44,"g":1,"x":0.98,"y":0},{"v":0.44,"g":1,"x":1,"y":0.012},{"v":0.44,"g":1,"x":1.05,"y":0.01},{"v":0.44,"g":1,"x":1.05,"y":-0.05},{"v":0.44,"g":1,"x":0.97,"y":-0.05}],
"c":[{"v":0.62,"x":-0.2,"y":-0.2},{"v":0.62,"x":1.2,"y":-0.2},{"v":0.62,"x":1.2,"y":1.2},{"v":0.62,"x":-0.2,"y":1.2},
{"v":0.58,"x":0,"y":0.705},{"v":0.58,"x":0.07,"y":0.795},{"v":0.58,"x":0.16,"y":0.85},{"v":0.58,"x":0.19,"y":0.925},{"v":0.58,"x":0.29,"y":0.985},{"v":0.58,"x":0.36,"y":1},{"v":0.58,"x":0.36,"y":1.1},{"v":0.58,"x":-0.1,"y":1.1},{"v":0.58,"x":-0.1,"y":0.705},
{"v":0.53,"x":0,"y":0.765},{"v":0.53,"x":0.055,"y":0.9},{"v":0.53,"x":0.1,"y":0.965},{"v":0.53,"x":0.185,"y":1},{"v":0.53,"x":0.185,"y":1.1},{"v":0.53,"x":-0.1,"y":1.1},{"v":0.53,"x":-0.1,"y":0.765},
{"v":0.47,"x":0,"y":0.865},{"v":0.47,"x":0.04,"y":0.935},{"v":0.47,"x":0.105,"y":1},{"v":0.47,"x":0.105,"y":1.1},{"v":0.47,"x":-0.1,"y":1.1},{"v":0.47,"x":-0.1,"y":0.865},
{"v":0.38,"x":0,"y":0.925},{"v":0.38,"x":0.04,"y":1},{"v":0.38,"x":0.04,"y":1.1},{"v":0.38,"x":-0.1,"y":1.1},{"v":0.38,"x":-0.1,"y":0.925},
{"v":0.58,"g":1,"x":0.535,"y":1.04},{"v":0.58,"g":1,"x":0.56,"y":0.99},{"v":0.58,"g":1,"x":0.57,"y":0.905},{"v":0.58,"g":1,"x":0.505,"y":0.86},{"v":0.58,"g":1,"x":0.39,"y":0.835},{"v":0.58,"g":1,"x":0.245,"y":0.8},{"v":0.58,"g":1,"x":0.27,"y":0.705},{"v":0.58,"g":1,"x":0.305,"y":0.55},{"v":0.58,"g":1,"x":0.32,"y":0.45},{"v":0.58,"g":1,"x":0.265,"y":0.295},{"v":0.58,"g":1,"x":0.25,"y":0.23},{"v":0.58,"g":1,"x":0.29,"y":0.175},{"v":0.58,"g":1,"x":0.36,"y":0.165},{"v":0.58,"g":1,"x":0.49,"y":0.19},{"v":0.58,"g":1,"x":0.625,"y":0.22},{"v":0.58,"g":1,"x":0.79,"y":0.23},{"v":0.58,"g":1,"x":0.895,"y":0.165},{"v":0.58,"g":1,"x":0.94,"y":0.085},{"v":0.58,"g":1,"x":0.96,"y":0},{"v":0.58,"g":1,"x":1.1,"y":0},{"v":0.58,"g":1,"x":1.1,"y":1.04},
{"v":0.53,"g":1,"x":0.3,"y":0.725},{"v":0.53,"g":1,"x":0.345,"y":0.76},{"v":0.53,"g":1,"x":0.43,"y":0.775},{"v":0.53,"g":1,"x":0.535,"y":0.82},{"v":0.53,"g":1,"x":0.565,"y":0.905},{"v":0.53,"g":1,"x":0.55,"y":0.99},{"v":0.53,"g":1,"x":0.545,"y":1.04},{"v":0.53,"g":1,"x":0.82,"y":1.04},{"v":0.53,"g":1,"x":0.8,"y":0.99},{"v":0.53,"g":1,"x":0.71,"y":0.9},{"v":0.53,"g":1,"x":0.65,"y":0.77},{"v":0.53,"g":1,"x":0.615,"y":0.575},{"v":0.53,"g":1,"x":0.655,"y":0.435},{"v":0.53,"g":1,"x":0.74,"y":0.305},{"v":0.53,"g":1,"x":0.71,"y":0.26},{"v":0.53,"g":1,"x":0.55,"y":0.215},{"v":0.53,"g":1,"x":0.39,"y":0.215},{"v":0.53,"g":1,"x":0.33,"y":0.265},{"v":0.53,"g":1,"x":0.355,"y":0.45},{"v":0.53,"g":1,"x":0.33,"y":0.63},
{"v":0.47,"g":1,"x":0.35,"y":0.68},{"v":0.47,"g":1,"x":0.37,"y":0.74},{"v":0.47,"g":1,"x":0.47,"y":0.76},{"v":0.47,"g":1,"x":0.55,"y":0.765},{"v":0.47,"g":1,"x":0.58,"y":0.72},{"v":0.47,"g":1,"x":0.575,"y":0.615},{"v":0.47,"g":1,"x":0.6,"y":0.475},{"v":0.47,"g":1,"x":0.66,"y":0.33},{"v":0.47,"g":1,"x":0.63,"y":0.28},{"v":0.47,"g":1,"x":0.52,"y":0.25},{"v":0.47,"g":1,"x":0.41,"y":0.26},{"v":0.47,"g":1,"x":0.37,"y":0.32},{"v":0.47,"g":1,"x":0.365,"y":0.485},
{"v":0.47,"g":2,"x":0.575,"y":1},{"v":0.47,"g":2,"x":0.67,"y":0.945},{"v":0.47,"g":2,"x":0.725,"y":0.955},{"v":0.47,"g":2,"x":0.79,"y":1},{"v":0.47,"g":2,"x":0.79,"y":1.1},{"v":0.47,"g":2,"x":0.575,"y":1.1},
{"v":0.38,"g":1,"x":0.43,"y":0.59},{"v":0.38,"g":1,"x":0.45,"y":0.64},{"v":0.38,"g":1,"x":0.48,"y":0.64},{"v":0.38,"g":1,"x":0.5,"y":0.575},{"v":0.38,"g":1,"x":0.52,"y":0.485},{"v":0.38,"g":1,"x":0.55,"y":0.385},{"v":0.38,"g":1,"x":0.53,"y":0.34},{"v":0.38,"g":1,"x":0.47,"y":0.34},{"v":0.38,"g":1,"x":0.44,"y":0.395},{"v":0.38,"g":1,"x":0.435,"y":0.51},
{"v":0.53,"g":2,"x":0.88,"y":0.28},{"v":0.53,"g":2,"x":0.91,"y":0.37},{"v":0.53,"g":2,"x":0.965,"y":0.51},{"v":0.53,"g":2,"x":1,"y":0.575},{"v":0.53,"g":2,"x":1.1,"y":0.6},{"v":0.53,"g":2,"x":1.1,"y":-0.05},{"v":0.53,"g":2,"x":1,"y":0.03},{"v":0.53,"g":2,"x":0.97,"y":0.1},{"v":0.53,"g":2,"x":0.94,"y":0.14},{"v":0.53,"g":2,"x":0.9,"y":0.23},
{"v":0.47,"g":3,"x":0.935,"y":0.29},{"v":0.47,"g":3,"x":0.95,"y":0.37},{"v":0.47,"g":3,"x":1,"y":0.46},{"v":0.47,"g":3,"x":1.1,"y":0.46},{"v":0.47,"g":3,"x":1.1,"y":0.03},{"v":0.47,"g":3,"x":1,"y":0.035},{"v":0.47,"g":3,"x":0.965,"y":0.14},
{"v":0.38,"g":2,"x":0.985,"y":0.29},{"v":0.38,"g":2,"x":1,"y":0.37},{"v":0.38,"g":2,"x":1.1,"y":0.37},{"v":0.38,"g":2,"x":1.1,"y":0.2},{"v":0.38,"g":2,"x":1,"y":0.21},
{"v":0.58,"g":2,"x":0,"y":0.285},{"v":0.58,"g":2,"x":0.045,"y":0.2},{"v":0.58,"g":2,"x":0.055,"y":0.11},{"v":0.58,"g":2,"x":0.07,"y":0.05},{"v":0.58,"g":2,"x":0.11,"y":0},{"v":0.58,"g":2,"x":0.12,"y":-0.1},{"v":0.58,"g":2,"x":-0.1,"y":-0.1},{"v":0.58,"g":2,"x":-0.1,"y":0.285},
{"v":0.53,"g":3,"x":0,"y":0.235},{"v":0.53,"g":3,"x":0.025,"y":0.18},{"v":0.53,"g":3,"x":0.03,"y":0.085},{"v":0.53,"g":3,"x":0.055,"y":0.02},{"v":0.53,"g":3,"x":0.07,"y":-0.05},{"v":0.53,"g":3,"x":-0.1,"y":-0.1},{"v":0.53,"g":3,"x":-0.1,"y":0.235},
{"v":0.67,"g":1,"x":0.17,"y":0.875},{"v":0.67,"g":1,"x":0.21,"y":0.94},{"v":0.67,"g":1,"x":0.29,"y":0.985},{"v":0.67,"g":1,"x":0.41,"y":0.995},{"v":0.67,"g":1,"x":0.49,"y":0.97},{"v":0.67,"g":1,"x":0.51,"y":0.92},{"v":0.67,"g":1,"x":0.48,"y":0.87},{"v":0.67,"g":1,"x":0.385,"y":0.85},{"v":0.67,"g":1,"x":0.25,"y":0.84},
{"v":0.72,"g":1,"x":0.295,"y":0.92},{"v":0.72,"g":1,"x":0.33,"y":0.955},{"v":0.72,"g":1,"x":0.385,"y":0.975},{"v":0.72,"g":1,"x":0.43,"y":0.96},{"v":0.72,"g":1,"x":0.45,"y":0.925},{"v":0.72,"g":1,"x":0.425,"y":0.89},{"v":0.72,"g":1,"x":0.37,"y":0.875},{"v":0.72,"g":1,"x":0.32,"y":0.89},
{"v":0.67,"g":2,"x":0,"y":0.665},{"v":0.67,"g":2,"x":0.065,"y":0.735},{"v":0.67,"g":2,"x":0.135,"y":0.755},{"v":0.67,"g":2,"x":0.225,"y":0.69},{"v":0.67,"g":2,"x":0.29,"y":0.575},{"v":0.67,"g":2,"x":0.305,"y":0.485},{"v":0.67,"g":2,"x":0.255,"y":0.32},{"v":0.67,"g":2,"x":0.19,"y":0.23},{"v":0.67,"g":2,"x":0.23,"y":0.15},{"v":0.67,"g":2,"x":0.295,"y":0.11},{"v":0.67,"g":2,"x":0.33,"y":0.075},{"v":0.67,"g":2,"x":0.255,"y":0.02},{"v":0.67,"g":2,"x":0.135,"y":0.015},{"v":0.67,"g":2,"x":0.085,"y":0.075},{"v":0.67,"g":2,"x":0.07,"y":0.19},{"v":0.67,"g":2,"x":0,"y":0.305},{"v":0.67,"g":2,"x":-0.03,"y":0.485},
{"v":0.72,"g":2,"x":0,"y":0.635},{"v":0.72,"g":2,"x":0.055,"y":0.7},{"v":0.72,"g":2,"x":0.13,"y":0.72},{"v":0.72,"g":2,"x":0.2,"y":0.685},{"v":0.72,"g":2,"x":0.265,"y":0.615},{"v":0.72,"g":2,"x":0.285,"y":0.485},{"v":0.72,"g":2,"x":0.23,"y":0.305},{"v":0.72,"g":2,"x":0.19,"y":0.215},{"v":0.72,"g":2,"x":0.23,"y":0.14},{"v":0.72,"g":2,"x":0.3,"y":0.075},{"v":0.72,"g":2,"x":0.255,"y":0.055},{"v":0.72,"g":2,"x":0.175,"y":0.05},{"v":0.72,"g":2,"x":0.11,"y":0.085},{"v":0.72,"g":2,"x":0.1,"y":0.165},{"v":0.72,"g":2,"x":0,"y":0.33},{"v":0.72,"g":2,"x":-0.03,"y":0.485},
{"v":0.89,"g":1,"x":0,"y":0.595},{"v":0.89,"g":1,"x":0.055,"y":0.665},{"v":0.89,"g":1,"x":0.125,"y":0.69},{"v":0.89,"g":1,"x":0.185,"y":0.665},{"v":0.89,"g":1,"x":0.24,"y":0.575},{"v":0.89,"g":1,"x":0.265,"y":0.49},{"v":0.89,"g":1,"x":0.25,"y":0.395},{"v":0.89,"g":1,"x":0.19,"y":0.305},{"v":0.89,"g":1,"x":0.12,"y":0.26},{"v":0.89,"g":1,"x":0.055,"y":0.295},{"v":0.89,"g":1,"x":0,"y":0.365},{"v":0.89,"g":1,"x":-0.03,"y":0.485},
{"v":0.67,"g":3,"x":0.305,"y":0.075},{"v":0.67,"g":3,"x":0.39,"y":0.13},{"v":0.67,"g":3,"x":0.52,"y":0.17},{"v":0.67,"g":3,"x":0.71,"y":0.19},{"v":0.67,"g":3,"x":0.845,"y":0.165},{"v":0.67,"g":3,"x":0.895,"y":0.095},{"v":0.67,"g":3,"x":0.86,"y":0.02},{"v":0.67,"g":3,"x":0.75,"y":-0.005},{"v":0.67,"g":3,"x":0.47,"y":-0.005},{"v":0.67,"g":3,"x":0.36,"y":0.02},
{"v":0.72,"g":3,"x":0.355,"y":0.065},{"v":0.72,"g":3,"x":0.47,"y":0.105},{"v":0.72,"g":3,"x":0.67,"y":0.14},{"v":0.72,"g":3,"x":0.79,"y":0.125},{"v":0.72,"g":3,"x":0.835,"y":0.08},{"v":0.72,"g":3,"x":0.805,"y":0.035},{"v":0.72,"g":3,"x":0.63,"y":0.01},{"v":0.72,"g":3,"x":0.49,"y":0.015},{"v":0.72,"g":3,"x":0.39,"y":0.04},
{"v":0.62,"g":3,"x":0.62,"y":0.575},{"v":0.62,"g":3,"x":0.65,"y":0.745},{"v":0.62,"g":3,"x":0.71,"y":0.875},{"v":0.62,"g":3,"x":0.815,"y":0.955},{"v":0.62,"g":3,"x":0.91,"y":0.98},{"v":0.62,"g":3,"x":0.965,"y":0.94},{"v":0.62,"g":3,"x":0.98,"y":0.835},{"v":0.62,"g":3,"x":0.96,"y":0.68},{"v":0.62,"g":3,"x":0.955,"y":0.525},{"v":0.62,"g":3,"x":0.92,"y":0.41},{"v":0.62,"g":3,"x":0.82,"y":0.345},{"v":0.62,"g":3,"x":0.735,"y":0.385},{"v":0.62,"g":3,"x":0.665,"y":0.475},
{"v":0.67,"g":4,"x":0.67,"y":0.59},{"v":0.67,"g":4,"x":0.71,"y":0.705},{"v":0.67,"g":4,"x":0.775,"y":0.85},{"v":0.67,"g":4,"x":0.86,"y":0.93},{"v":0.67,"g":4,"x":0.925,"y":0.93},{"v":0.67,"g":4,"x":0.965,"y":0.86},{"v":0.67,"g":4,"x":0.94,"y":0.68},{"v":0.67,"g":4,"x":0.945,"y":0.55},{"v":0.67,"g":4,"x":0.92,"y":0.435},{"v":0.67,"g":4,"x":0.83,"y":0.385},{"v":0.67,"g":4,"x":0.745,"y":0.42},{"v":0.67,"g":4,"x":0.685,"y":0.51},
{"v":0.72,"g":4,"x":0.705,"y":0.59},{"v":0.72,"g":4,"x":0.745,"y":0.695},{"v":0.72,"g":4,"x":0.8,"y":0.82},{"v":0.72,"g":4,"x":0.885,"y":0.905},{"v":0.72,"g":4,"x":0.945,"y":0.85},{"v":0.72,"g":4,"x":0.92,"y":0.68},{"v":0.72,"g":4,"x":0.93,"y":0.55},{"v":0.72,"g":4,"x":0.9,"y":0.46},{"v":0.72,"g":4,"x":0.82,"y":0.43},{"v":0.72,"g":4,"x":0.75,"y":0.46},{"v":0.72,"g":4,"x":0.705,"y":0.54},
{"v":0.89,"g":2,"x":0.745,"y":0.575},{"v":0.89,"g":2,"x":0.765,"y":0.64},{"v":0.89,"g":2,"x":0.815,"y":0.71},{"v":0.89,"g":2,"x":0.845,"y":0.73},{"v":0.89,"g":2,"x":0.87,"y":0.7},{"v":0.89,"g":2,"x":0.895,"y":0.575},{"v":0.89,"g":2,"x":0.88,"y":0.51},{"v":0.89,"g":2,"x":0.825,"y":0.47},{"v":0.89,"g":2,"x":0.775,"y":0.5}],
"cp":[{"v":0.66,"x":-0.2,"y":-0.2},{"v":0.66,"x":1.2,"y":-0.2},{"v":0.66,"x":1.2,"y":1.2},{"v":0.66,"x":-0.2,"y":1.2},
{"v":0.58,"g":1,"x":0.825,"y":1},{"v":0.58,"g":1,"x":0.905,"y":0.97},{"v":0.58,"g":1,"x":0.98,"y":0.905},{"v":0.58,"g":1,"x":1,"y":0.84},{"v":0.58,"g":1,"x":1.1,"y":0.84},{"v":0.58,"g":1,"x":1.1,"y":1.1},{"v":0.58,"g":1,"x":0.825,"y":1.1},
{"v":0.47,"g":1,"x":0.94,"y":1},{"v":0.47,"g":1,"x":0.98,"y":0.985},{"v":0.47,"g":1,"x":1,"y":0.93},{"v":0.47,"g":1,"x":1.1,"y":0.93},{"v":0.47,"g":1,"x":1.1,"y":1.1},{"v":0.47,"g":1,"x":0.94,"y":1.1},
{"v":0.58,"g":2,"x":0.835,"y":0},{"v":0.58,"g":2,"x":0.9,"y":0.055},{"v":0.58,"g":2,"x":0.93,"y":0.145},{"v":0.58,"g":2,"x":0.955,"y":0.235},{"v":0.58,"g":2,"x":1,"y":0.315},{"v":0.58,"g":2,"x":1.1,"y":0.32},{"v":0.58,"g":2,"x":1.1,"y":-0.1},{"v":0.58,"g":2,"x":0.82,"y":-0.1},
{"v":0.47,"g":2,"x":0.89,"y":0},{"v":0.47,"g":2,"x":0.955,"y":0.08},{"v":0.47,"g":2,"x":0.98,"y":0.17},{"v":0.47,"g":2,"x":1,"y":0.29},{"v":0.47,"g":2,"x":1.1,"y":0.29},{"v":0.47,"g":2,"x":1.1,"y":-0.1},{"v":0.47,"g":2,"x":0.88,"y":-0.1},
{"v":0.29,"x":0.93,"y":0},{"v":0.29,"x":0.97,"y":0.03},{"v":0.29,"x":1,"y":0.075},{"v":0.29,"x":1.1,"y":0.08},{"v":0.29,"x":1.1,"y":-0.1},{"v":0.29,"x":0.92,"y":-0.1},
{"v":0.58,"g":3,"x":0,"y":0.825},{"v":0.58,"g":3,"x":0.02,"y":0.76},{"v":0.58,"g":3,"x":0.035,"y":0.68},{"v":0.58,"g":3,"x":0.02,"y":0.58},{"v":0.58,"g":3,"x":0,"y":0.51},{"v":0.58,"g":3,"x":-0.1,"y":0.5},{"v":0.58,"g":3,"x":-0.1,"y":0.83},
{"v":0.58,"g":4,"x":0,"y":0.38},{"v":0.58,"g":4,"x":0.025,"y":0.27},{"v":0.58,"g":4,"x":0.02,"y":0.2},{"v":0.58,"g":4,"x":0,"y":0.16},{"v":0.58,"g":4,"x":-0.1,"y":0.16},{"v":0.58,"g":4,"x":-0.1,"y":0.38},
{"v":0.73,"g":1,"x":0.01,"y":0.89},{"v":0.73,"g":1,"x":0.045,"y":0.985},{"v":0.73,"g":1,"x":0.22,"y":0.99},{"v":0.73,"g":1,"x":0.545,"y":0.95},{"v":0.73,"g":1,"x":0.745,"y":0.93},{"v":0.73,"g":1,"x":0.905,"y":0.94},{"v":0.73,"g":1,"x":0.98,"y":0.89},{"v":0.73,"g":1,"x":0.995,"y":0.76},{"v":0.73,"g":1,"x":0.98,"y":0.605},{"v":0.73,"g":1,"x":1,"y":0.445},{"v":0.73,"g":1,"x":0.98,"y":0.33},{"v":0.73,"g":1,"x":0.92,"y":0.275},{"v":0.73,"g":1,"x":0.89,"y":0.225},{"v":0.73,"g":1,"x":0.9,"y":0.12},{"v":0.73,"g":1,"x":0.85,"y":0.055},{"v":0.73,"g":1,"x":0.705,"y":0.03},{"v":0.73,"g":1,"x":0.38,"y":0.02},{"v":0.73,"g":1,"x":0.14,"y":0.02},{"v":0.73,"g":1,"x":0.045,"y":0.055},{"v":0.73,"g":1,"x":0.03,"y":0.2},{"v":0.73,"g":1,"x":0.055,"y":0.265},{"v":0.73,"g":1,"x":0.025,"y":0.405},{"v":0.73,"g":1,"x":0.035,"y":0.54},{"v":0.73,"g":1,"x":0.06,"y":0.71},{"v":0.73,"g":1,"x":0.02,"y":0.815},
{"v":0.79,"x":0.025,"y":0.92},{"v":0.79,"x":0.07,"y":0.975},{"v":0.79,"x":0.22,"y":0.975},{"v":0.79,"x":0.465,"y":0.945},{"v":0.79,"x":0.705,"y":0.905},{"v":0.79,"x":0.905,"y":0.905},{"v":0.79,"x":0.955,"y":0.84},{"v":0.79,"x":0.955,"y":0.67},{"v":0.79,"x":0.96,"y":0.54},{"v":0.79,"x":0.98,"y":0.405},{"v":0.79,"x":0.94,"y":0.33},{"v":0.79,"x":0.9,"y":0.25},{"v":0.79,"x":0.81,"y":0.13},{"v":0.79,"x":0.77,"y":0.075},{"v":0.79,"x":0.38,"y":0.055},{"v":0.79,"x":0.14,"y":0.055},{"v":0.79,"x":0.07,"y":0.095},{"v":0.79,"x":0.085,"y":0.17},{"v":0.79,"x":0.09,"y":0.265},{"v":0.79,"x":0.05,"y":0.355},{"v":0.79,"x":0.04,"y":0.485},{"v":0.79,"x":0.07,"y":0.63},{"v":0.79,"x":0.05,"y":0.75},{"v":0.79,"x":0.02,"y":0.85},
{"v":0.73,"g":2,"x":0.175,"y":0.675},{"v":0.73,"g":2,"x":0.245,"y":0.76},{"v":0.73,"g":2,"x":0.38,"y":0.815},{"v":0.73,"g":2,"x":0.625,"y":0.82},{"v":0.73,"g":2,"x":0.77,"y":0.785},{"v":0.73,"g":2,"x":0.81,"y":0.71},{"v":0.73,"g":2,"x":0.785,"y":0.54},{"v":0.73,"g":2,"x":0.775,"y":0.405},{"v":0.73,"g":2,"x":0.81,"y":0.29},{"v":0.73,"g":2,"x":0.775,"y":0.235},{"v":0.73,"g":2,"x":0.665,"y":0.215},{"v":0.73,"g":2,"x":0.46,"y":0.21},{"v":0.73,"g":2,"x":0.26,"y":0.23},{"v":0.73,"g":2,"x":0.175,"y":0.275},{"v":0.73,"g":2,"x":0.175,"y":0.33},{"v":0.73,"g":2,"x":0.22,"y":0.405},{"v":0.73,"g":2,"x":0.215,"y":0.51},{"v":0.73,"g":2,"x":0.18,"y":0.63},
{"v":0.66,"g":1,"x":0.225,"y":0.655},{"v":0.66,"g":1,"x":0.29,"y":0.72},{"v":0.66,"g":1,"x":0.46,"y":0.775},{"v":0.66,"g":1,"x":0.7,"y":0.775},{"v":0.66,"g":1,"x":0.77,"y":0.695},{"v":0.66,"g":1,"x":0.755,"y":0.51},{"v":0.66,"g":1,"x":0.755,"y":0.405},{"v":0.66,"g":1,"x":0.795,"y":0.29},{"v":0.66,"g":1,"x":0.755,"y":0.25},{"v":0.66,"g":1,"x":0.63,"y":0.225},{"v":0.66,"g":1,"x":0.42,"y":0.245},{"v":0.66,"g":1,"x":0.255,"y":0.275},{"v":0.66,"g":1,"x":0.215,"y":0.315},{"v":0.66,"g":1,"x":0.255,"y":0.405},{"v":0.66,"g":1,"x":0.255,"y":0.54},
{"v":0.58,"g":5,"x":0.275,"y":0.63},{"v":0.58,"g":5,"x":0.365,"y":0.715},{"v":0.58,"g":5,"x":0.545,"y":0.73},{"v":0.58,"g":5,"x":0.705,"y":0.73},{"v":0.58,"g":5,"x":0.745,"y":0.63},{"v":0.58,"g":5,"x":0.72,"y":0.475},{"v":0.58,"g":5,"x":0.745,"y":0.315},{"v":0.58,"g":5,"x":0.705,"y":0.27},{"v":0.58,"g":5,"x":0.565,"y":0.255},{"v":0.58,"g":5,"x":0.4,"y":0.265},{"v":0.58,"g":5,"x":0.295,"y":0.29},{"v":0.58,"g":5,"x":0.27,"y":0.355},{"v":0.58,"g":5,"x":0.295,"y":0.485},
{"v":0.47,"g":3,"x":0.37,"y":0.615},{"v":0.47,"g":3,"x":0.445,"y":0.675},{"v":0.47,"g":3,"x":0.585,"y":0.68},{"v":0.47,"g":3,"x":0.655,"y":0.645},{"v":0.47,"g":3,"x":0.67,"y":0.54},{"v":0.47,"g":3,"x":0.685,"y":0.405},{"v":0.47,"g":3,"x":0.685,"y":0.34},{"v":0.47,"g":3,"x":0.64,"y":0.31},{"v":0.47,"g":3,"x":0.545,"y":0.315},{"v":0.47,"g":3,"x":0.38,"y":0.335},{"v":0.47,"g":3,"x":0.335,"y":0.38},{"v":0.47,"g":3,"x":0.335,"y":0.445},{"v":0.47,"g":3,"x":0.36,"y":0.565},
{"v":0.29,"g":1,"x":0.455,"y":0.46},{"v":0.29,"g":1,"x":0.485,"y":0.52},{"v":0.29,"g":1,"x":0.535,"y":0.535},{"v":0.29,"g":1,"x":0.575,"y":0.51},{"v":0.29,"g":1,"x":0.595,"y":0.455},{"v":0.29,"g":1,"x":0.575,"y":0.415},{"v":0.29,"g":1,"x":0.53,"y":0.41},{"v":0.29,"g":1,"x":0.48,"y":0.43},
{"v":0.84,"g":1,"x":0.025,"y":0.89},{"v":0.84,"g":1,"x":0.075,"y":0.97},{"v":0.84,"g":1,"x":0.18,"y":0.98},{"v":0.84,"g":1,"x":0.34,"y":0.945},{"v":0.84,"g":1,"x":0.505,"y":0.9},{"v":0.84,"g":1,"x":0.62,"y":0.87},{"v":0.84,"g":1,"x":0.505,"y":0.835},{"v":0.84,"g":1,"x":0.35,"y":0.8},{"v":0.84,"g":1,"x":0.205,"y":0.75},{"v":0.84,"g":1,"x":0.175,"y":0.675},{"v":0.84,"g":1,"x":0.21,"y":0.565},{"v":0.84,"g":1,"x":0.215,"y":0.5},{"v":0.84,"g":1,"x":0.175,"y":0.355},{"v":0.84,"g":1,"x":0.11,"y":0.33},{"v":0.84,"g":1,"x":0.05,"y":0.395},{"v":0.84,"g":1,"x":0.03,"y":0.51},{"v":0.84,"g":1,"x":0.07,"y":0.63},{"v":0.84,"g":1,"x":0.1,"y":0.71},{"v":0.84,"g":1,"x":0.05,"y":0.775},
{"v":0.89,"g":1,"x":0.035,"y":0.89},{"v":0.89,"g":1,"x":0.085,"y":0.965},{"v":0.89,"g":1,"x":0.175,"y":0.98},{"v":0.89,"g":1,"x":0.32,"y":0.94},{"v":0.89,"g":1,"x":0.415,"y":0.905},{"v":0.89,"g":1,"x":0.51,"y":0.88},{"v":0.89,"g":1,"x":0.415,"y":0.845},{"v":0.89,"g":1,"x":0.285,"y":0.785},{"v":0.89,"g":1,"x":0.195,"y":0.74},{"v":0.89,"g":1,"x":0.175,"y":0.675},{"v":0.89,"g":1,"x":0.195,"y":0.565},{"v":0.89,"g":1,"x":0.2,"y":0.5},{"v":0.89,"g":1,"x":0.165,"y":0.395},{"v":0.89,"g":1,"x":0.115,"y":0.38},{"v":0.89,"g":1,"x":0.06,"y":0.435},{"v":0.89,"g":1,"x":0.04,"y":0.51},{"v":0.89,"g":1,"x":0.07,"y":0.615},{"v":0.89,"g":1,"x":0.125,"y":0.695},{"v":0.89,"g":1,"x":0.085,"y":0.75},{"v":0.89,"g":1,"x":0.045,"y":0.825},
{"v":1.02,"g":1,"x":0.045,"y":0.89},{"v":1.02,"g":1,"x":0.085,"y":0.965},{"v":1.02,"g":1,"x":0.155,"y":0.975},{"v":1.02,"g":1,"x":0.26,"y":0.95},{"v":1.02,"g":1,"x":0.39,"y":0.88},{"v":1.02,"g":1,"x":0.3,"y":0.815},{"v":1.02,"g":1,"x":0.165,"y":0.755},{"v":1.02,"g":1,"x":0.11,"y":0.775},{"v":1.02,"g":1,"x":0.055,"y":0.84},
{"v":1.02,"g":2,"x":0.065,"y":0.51},{"v":1.02,"g":2,"x":0.095,"y":0.585},{"v":1.02,"g":2,"x":0.135,"y":0.605},{"v":1.02,"g":2,"x":0.175,"y":0.58},{"v":1.02,"g":2,"x":0.19,"y":0.51},{"v":1.02,"g":2,"x":0.175,"y":0.455},{"v":1.02,"g":2,"x":0.125,"y":0.415},{"v":1.02,"g":2,"x":0.08,"y":0.445},
{"v":0.84,"g":2,"x":0.775,"y":0.84},{"v":0.84,"g":2,"x":0.825,"y":0.88},{"v":0.84,"g":2,"x":0.905,"y":0.885},{"v":0.84,"g":2,"x":0.93,"y":0.84},{"v":0.84,"g":2,"x":0.915,"y":0.78},{"v":0.84,"g":2,"x":0.875,"y":0.735},{"v":0.84,"g":2,"x":0.825,"y":0.76},{"v":0.84,"g":2,"x":0.795,"y":0.8},
{"v":0.89,"g":2,"x":0.855,"y":0.825},{"v":0.89,"g":2,"x":0.87,"y":0.84},{"v":0.89,"g":2,"x":0.88,"y":0.825},{"v":0.89,"g":2,"x":0.87,"y":0.805},
{"v":0.84,"g":3,"x":0.775,"y":0.51},{"v":0.84,"g":3,"x":0.81,"y":0.615},{"v":0.84,"g":3,"x":0.865,"y":0.755},{"v":0.84,"g":3,"x":0.915,"y":0.67},{"v":0.84,"g":3,"x":0.97,"y":0.54},{"v":0.84,"g":3,"x":0.98,"y":0.5},{"v":0.84,"g":3,"x":0.955,"y":0.38},{"v":0.84,"g":3,"x":0.88,"y":0.315},{"v":0.84,"g":3,"x":0.81,"y":0.355},
{"v":0.89,"g":3,"x":0.785,"y":0.51},{"v":0.89,"g":3,"x":0.81,"y":0.605},{"v":0.89,"g":3,"x":0.875,"y":0.72},{"v":0.89,"g":3,"x":0.94,"y":0.63},{"v":0.89,"g":3,"x":0.975,"y":0.51},{"v":0.89,"g":3,"x":0.945,"y":0.405},{"v":0.89,"g":3,"x":0.88,"y":0.36},{"v":0.89,"g":3,"x":0.815,"y":0.395},
{"v":1.02,"g":3,"x":0.795,"y":0.51},{"v":1.02,"g":3,"x":0.815,"y":0.6},{"v":1.02,"g":3,"x":0.88,"y":0.65},{"v":1.02,"g":3,"x":0.94,"y":0.605},{"v":1.02,"g":3,"x":0.96,"y":0.505},{"v":1.02,"g":3,"x":0.94,"y":0.435},{"v":1.02,"g":3,"x":0.88,"y":0.395},{"v":1.02,"g":3,"x":0.82,"y":0.435},
{"v":0.84,"g":4,"x":0.07,"y":0.12},{"v":0.84,"g":4,"x":0.125,"y":0.22},{"v":0.84,"g":4,"x":0.3,"y":0.17},{"v":0.84,"g":4,"x":0.545,"y":0.185},{"v":0.84,"g":4,"x":0.735,"y":0.115},{"v":0.84,"g":4,"x":0.625,"y":0.065},{"v":0.84,"g":4,"x":0.465,"y":0.035},{"v":0.84,"g":4,"x":0.22,"y":0.035},{"v":0.84,"g":4,"x":0.1,"y":0.045},
{"v":0.89,"g":4,"x":0.09,"y":0.115},{"v":0.89,"g":4,"x":0.15,"y":0.175},{"v":0.89,"g":4,"x":0.26,"y":0.145},{"v":0.89,"g":4,"x":0.45,"y":0.15},{"v":0.89,"g":4,"x":0.62,"y":0.1},{"v":0.89,"g":4,"x":0.465,"y":0.055},{"v":0.89,"g":4,"x":0.3,"y":0.065},{"v":0.89,"g":4,"x":0.14,"y":0.055},{"v":0.89,"g":4,"x":0.1,"y":0.08}],
"d":[{"v":0.44,"x":-0.2,"y":-0.2},{"v":0.44,"x":1.2,"y":-0.2},{"v":0.44,"x":1.2,"y":1.2},{"v":0.44,"x":-0.2,"y":1.2},
{"v":0.49,"x":0,"y":0.54},{"v":0.49,"x":0.08,"y":0.46},{"v":0.49,"x":0.2,"y":0.385},{"v":0.49,"x":0.255,"y":0.41},{"v":0.49,"x":0.36,"y":0.55},{"v":0.49,"x":0.475,"y":0.67},{"v":0.49,"x":0.595,"y":0.71},{"v":0.49,"x":0.625,"y":0.645},{"v":0.49,"x":0.665,"y":0.475},{"v":0.49,"x":0.725,"y":0.3},{"v":0.49,"x":0.81,"y":0.16},{"v":0.49,"x":0.905,"y":0.06},{"v":0.49,"x":1,"y":0.025},{"v":0.49,"x":1.1,"y":0.02},{"v":0.49,"x":1.1,"y":0.7},{"v":0.49,"x":1,"y":0.7},{"v":0.49,"x":0.795,"y":0.76},{"v":0.49,"x":0.64,"y":0.745},{"v":0.49,"x":0.62,"y":0.755},{"v":0.49,"x":0.59,"y":0.845},{"v":0.49,"x":0.55,"y":0.945},{"v":0.49,"x":0.53,"y":1},{"v":0.49,"x":0.53,"y":1.1},{"v":0.49,"x":-0.1,"y":1.1},{"v":0.49,"x":-0.1,"y":0.54},
{"v":0.55,"g":1,"x":0.505,"y":1},{"v":0.55,"g":1,"x":0.525,"y":0.945},{"v":0.55,"g":1,"x":0.535,"y":0.855},{"v":0.55,"g":1,"x":0.495,"y":0.77},{"v":0.55,"g":1,"x":0.4,"y":0.66},{"v":0.55,"g":1,"x":0.28,"y":0.535},{"v":0.55,"g":1,"x":0.185,"y":0.485},{"v":0.55,"g":1,"x":0.08,"y":0.515},{"v":0.55,"g":1,"x":0,"y":0.605},{"v":0.55,"g":1,"x":-0.1,"y":0.61},{"v":0.55,"g":1,"x":-0.1,"y":1.1},{"v":0.55,"g":1,"x":0.505,"y":1.1},
{"v":0.63,"g":1,"x":0.43,"y":1},{"v":0.63,"g":1,"x":0.465,"y":0.895},{"v":0.63,"g":1,"x":0.455,"y":0.835},{"v":0.63,"g":1,"x":0.4,"y":0.755},{"v":0.63,"g":1,"x":0.28,"y":0.635},{"v":0.63,"g":1,"x":0.175,"y":0.58},{"v":0.63,"g":1,"x":0.08,"y":0.61},{"v":0.63,"g":1,"x":0,"y":0.7},{"v":0.63,"g":1,"x":-0.1,"y":0.7},{"v":0.63,"g":1,"x":-0.1,"y":1.1},{"v":0.63,"g":1,"x":0.43,"y":1.1},
{"v":0.74,"g":1,"x":0.05,"y":1},{"v":0.74,"g":1,"x":0.01,"y":0.92},{"v":0.74,"g":1,"x":0,"y":0.86},{"v":0.74,"g":1,"x":0.04,"y":0.745},{"v":0.74,"g":1,"x":0.11,"y":0.68},{"v":0.74,"g":1,"x":0.185,"y":0.665},{"v":0.74,"g":1,"x":0.28,"y":0.72},{"v":0.74,"g":1,"x":0.365,"y":0.82},{"v":0.74,"g":1,"x":0.395,"y":0.895},{"v":0.74,"g":1,"x":0.375,"y":0.96},{"v":0.74,"g":1,"x":0.355,"y":1},{"v":0.74,"g":1,"x":0.355,"y":1.1},{"v":0.74,"g":1,"x":0.05,"y":1.1},
{"v":0.55,"g":2,"x":0.695,"y":0.57},{"v":0.55,"g":2,"x":0.705,"y":0.645},{"v":0.55,"g":2,"x":0.795,"y":0.7},{"v":0.55,"g":2,"x":0.875,"y":0.71},{"v":0.55,"g":2,"x":1,"y":0.645},{"v":0.55,"g":2,"x":1.1,"y":0.64},{"v":0.55,"g":2,"x":1.1,"y":0.07},{"v":0.55,"g":2,"x":1,"y":0.07},{"v":0.55,"g":2,"x":0.915,"y":0.125},{"v":0.55,"g":2,"x":0.81,"y":0.25},{"v":0.55,"g":2,"x":0.73,"y":0.4},
{"v":0.63,"g":2,"x":0.76,"y":0.51},{"v":0.63,"g":2,"x":0.785,"y":0.59},{"v":0.63,"g":2,"x":0.86,"y":0.635},{"v":0.63,"g":2,"x":0.94,"y":0.61},{"v":0.63,"g":2,"x":1,"y":0.555},{"v":0.63,"g":2,"x":1.1,"y":0.55},{"v":0.63,"g":2,"x":1.1,"y":0.15},{"v":0.63,"g":2,"x":1,"y":0.15},{"v":0.63,"g":2,"x":0.945,"y":0.155},{"v":0.63,"g":2,"x":0.85,"y":0.26},{"v":0.63,"g":2,"x":0.785,"y":0.375},
{"v":0.74,"g":2,"x":0.84,"y":0.46},{"v":0.74,"g":2,"x":0.865,"y":0.515},{"v":0.74,"g":2,"x":0.9,"y":0.525},{"v":0.74,"g":2,"x":0.955,"y":0.475},{"v":0.74,"g":2,"x":0.995,"y":0.385},{"v":0.74,"g":2,"x":0.99,"y":0.325},{"v":0.74,"g":2,"x":0.955,"y":0.28},{"v":0.74,"g":2,"x":0.905,"y":0.31},{"v":0.74,"g":2,"x":0.86,"y":0.385},
{"v":0.49,"g":1,"x":0.18,"y":0.11},{"v":0.49,"g":1,"x":0.205,"y":0.21},{"v":0.49,"g":1,"x":0.255,"y":0.245},{"v":0.49,"g":1,"x":0.325,"y":0.225},{"v":0.49,"g":1,"x":0.405,"y":0.125},{"v":0.49,"g":1,"x":0.44,"y":0.05},{"v":0.49,"g":1,"x":0.43,"y":0},{"v":0.49,"g":1,"x":0.43,"y":-0.1},{"v":0.49,"g":1,"x":0.18,"y":-0.1},{"v":0.49,"g":1,"x":0.19,"y":0.02},
{"v":0.39,"g":1,"x":0.56,"y":1},{"v":0.39,"g":1,"x":0.595,"y":0.895},{"v":0.39,"g":1,"x":0.635,"y":0.82},{"v":0.39,"g":1,"x":0.755,"y":0.8},{"v":0.39,"g":1,"x":0.915,"y":0.76},{"v":0.39,"g":1,"x":1,"y":0.73},{"v":0.39,"g":1,"x":1.1,"y":0.73},{"v":0.39,"g":1,"x":1.1,"y":1.1},{"v":0.39,"g":1,"x":0.56,"y":1.1},
{"v":0.33,"g":1,"x":0.61,"y":1},{"v":0.33,"g":1,"x":0.675,"y":0.935},{"v":0.33,"g":1,"x":0.795,"y":0.87},{"v":0.33,"g":1,"x":0.915,"y":0.835},{"v":0.33,"g":1,"x":1,"y":0.79},{"v":0.33,"g":1,"x":1.1,"y":0.79},{"v":0.33,"g":1,"x":1.1,"y":1.1},{"v":0.33,"g":1,"x":0.61,"y":1.1},
{"v":0.24,"x":0.705,"y":1},{"v":0.24,"x":0.795,"y":0.945},{"v":0.24,"x":0.915,"y":0.91},{"v":0.24,"x":1,"y":0.87},{"v":0.24,"x":1.1,"y":0.87},{"v":0.24,"x":1.1,"y":1.1},{"v":0.24,"x":0.705,"y":1.1},
{"v":0.39,"g":2,"x":0.33,"y":0.38},{"v":0.39,"g":2,"x":0.35,"y":0.46},{"v":0.39,"g":2,"x":0.43,"y":0.56},{"v":0.39,"g":2,"x":0.525,"y":0.61},{"v":0.39,"g":2,"x":0.59,"y":0.56},{"v":0.39,"g":2,"x":0.62,"y":0.425},{"v":0.39,"g":2,"x":0.65,"y":0.3},{"v":0.39,"g":2,"x":0.715,"y":0.175},{"v":0.39,"g":2,"x":0.82,"y":0.085},{"v":0.39,"g":2,"x":0.92,"y":0},{"v":0.39,"g":2,"x":0.92,"y":-0.1},{"v":0.39,"g":2,"x":0.505,"y":-0.1},{"v":0.39,"g":2,"x":0.505,"y":0},{"v":0.39,"g":2,"x":0.5,"y":0.05},{"v":0.39,"g":2,"x":0.475,"y":0.15},{"v":0.39,"g":2,"x":0.415,"y":0.235},{"v":0.39,"g":2,"x":0.34,"y":0.325},
{"v":0.33,"g":2,"x":0.415,"y":0.39},{"v":0.33,"g":2,"x":0.435,"y":0.465},{"v":0.33,"g":2,"x":0.49,"y":0.51},{"v":0.33,"g":2,"x":0.55,"y":0.46},{"v":0.33,"g":2,"x":0.595,"y":0.35},{"v":0.33,"g":2,"x":0.615,"y":0.25},{"v":0.33,"g":2,"x":0.615,"y":0.17},{"v":0.33,"g":2,"x":0.6,"y":0.16},{"v":0.33,"g":2,"x":0.475,"y":0.26},{"v":0.33,"g":2,"x":0.43,"y":0.325},
{"v":0.33,"g":3,"x":0.62,"y":0.125},{"v":0.33,"g":3,"x":0.685,"y":0.085},{"v":0.33,"g":3,"x":0.81,"y":0},{"v":0.33,"g":3,"x":0.81,"y":-0.1},{"v":0.33,"g":3,"x":0.58,"y":-0.1},{"v":0.33,"g":3,"x":0.58,"y":0},{"v":0.33,"g":3,"x":0.605,"y":0.075},
{"v":0.39,"g":3,"x":0,"y":0.5},{"v":0.39,"g":3,"x":0.065,"y":0.4},{"v":0.39,"g":3,"x":0.12,"y":0.3},{"v":0.39,"g":3,"x":0.13,"y":0.235},{"v":0.39,"g":3,"x":0.115,"y":0.125},{"v":0.39,"g":3,"x":0.12,"y":0.06},{"v":0.39,"g":3,"x":0.16,"y":0},{"v":0.39,"g":3,"x":0.16,"y":-0.1},{"v":0.39,"g":3,"x":-0.1,"y":-0.1},{"v":0.39,"g":3,"x":-0.1,"y":0.5},
{"v":0.33,"g":4,"x":0,"y":0.425},{"v":0.33,"g":4,"x":0.05,"y":0.335},{"v":0.33,"g":4,"x":0.06,"y":0.25},{"v":0.33,"g":4,"x":0.055,"y":0.11},{"v":0.33,"g":4,"x":0.08,"y":0},{"v":0.33,"g":4,"x":0.08,"y":-0.1},{"v":0.33,"g":4,"x":-0.1,"y":-0.1},{"v":0.33,"g":4,"x":-0.1,"y":0.425}],
"dp":[{"v":0.51,"x":-0.2,"y":-0.2},{"v":0.51,"x":1.2,"y":-0.2},{"v":0.51,"x":1.2,"y":1.2},{"v":0.51,"x":-0.2,"y":1.2},
{"v":0.43,"g":1,"x":0.615,"y":1.05},{"v":0.43,"g":1,"x":0.615,"y":1},{"v":0.43,"g":1,"x":0.63,"y":0.96},{"v":0.43,"g":1,"x":0.6,"y":0.9},{"v":0.43,"g":1,"x":0.455,"y":0.87},{"v":0.43,"g":1,"x":0.295,"y":0.83},{"v":0.43,"g":1,"x":0.21,"y":0.78},{"v":0.43,"g":1,"x":0.195,"y":0.75},{"v":0.43,"g":1,"x":0.23,"y":0.665},{"v":0.43,"g":1,"x":0.275,"y":0.53},{"v":0.43,"g":1,"x":0.285,"y":0.405},{"v":0.43,"g":1,"x":0.34,"y":0.31},{"v":0.43,"g":1,"x":0.455,"y":0.27},{"v":0.43,"g":1,"x":0.575,"y":0.27},{"v":0.43,"g":1,"x":0.645,"y":0.3},{"v":0.43,"g":1,"x":0.695,"y":0.345},{"v":0.43,"g":1,"x":0.695,"y":0.445},{"v":0.43,"g":1,"x":0.73,"y":0.58},{"v":0.43,"g":1,"x":0.79,"y":0.715},{"v":0.43,"g":1,"x":0.895,"y":0.78},{"v":0.43,"g":1,"x":1,"y":0.79},{"v":0.43,"g":1,"x":1.1,"y":0.79},{"v":0.43,"g":1,"x":1.1,"y":1.05},
{"v":0.43,"g":2,"x":0,"y":0.955},{"v":0.43,"g":2,"x":0.03,"y":0.985},{"v":0.43,"g":2,"x":0.06,"y":1},{"v":0.43,"g":2,"x":0.06,"y":1.05},{"v":0.43,"g":2,"x":-0.1,"y":1.05},{"v":0.43,"g":2,"x":-0.1,"y":0.955},
{"v":0.34,"g":1,"x":0.75,"y":1},{"v":0.34,"g":1,"x":0.84,"y":0.925},{"v":0.34,"g":1,"x":0.92,"y":0.865},{"v":0.34,"g":1,"x":1,"y":0.815},{"v":0.34,"g":1,"x":1.1,"y":0.815},{"v":0.34,"g":1,"x":1.1,"y":1.1},{"v":0.34,"g":1,"x":0.75,"y":1.1},
{"v":0.2,"g":1,"x":0.94,"y":1},{"v":0.2,"g":1,"x":1,"y":0.94},{"v":0.2,"g":1,"x":1.1,"y":0.94},{"v":0.2,"g":1,"x":1.1,"y":1.1},{"v":0.2,"g":1,"x":0.94,"y":1.1},
{"v":0.34,"g":2,"x":0.25,"y":0.715},{"v":0.34,"g":2,"x":0.275,"y":0.785},{"v":0.34,"g":2,"x":0.455,"y":0.835},{"v":0.34,"g":2,"x":0.655,"y":0.84},{"v":0.34,"g":2,"x":0.735,"y":0.8},{"v":0.34,"g":2,"x":0.72,"y":0.705},{"v":0.34,"g":2,"x":0.67,"y":0.555},{"v":0.34,"g":2,"x":0.65,"y":0.395},{"v":0.34,"g":2,"x":0.585,"y":0.325},{"v":0.34,"g":2,"x":0.485,"y":0.32},{"v":0.34,"g":2,"x":0.39,"y":0.37},{"v":0.34,"g":2,"x":0.34,"y":0.445},{"v":0.34,"g":2,"x":0.295,"y":0.58},
{"v":0.2,"g":2,"x":0.32,"y":0.68},{"v":0.2,"g":2,"x":0.35,"y":0.75},{"v":0.2,"g":2,"x":0.47,"y":0.775},{"v":0.2,"g":2,"x":0.6,"y":0.765},{"v":0.2,"g":2,"x":0.635,"y":0.7},{"v":0.2,"g":2,"x":0.615,"y":0.555},{"v":0.2,"g":2,"x":0.585,"y":0.445},{"v":0.2,"g":2,"x":0.51,"y":0.405},{"v":0.2,"g":2,"x":0.44,"y":0.445},{"v":0.2,"g":2,"x":0.365,"y":0.545},
{"v":0.58,"g":1,"x":0.05,"y":0.915},{"v":0.58,"g":1,"x":0.065,"y":0.965},{"v":0.58,"g":1,"x":0.09,"y":1},{"v":0.58,"g":1,"x":0.09,"y":1.05},{"v":0.58,"g":1,"x":0.47,"y":1.05},{"v":0.58,"g":1,"x":0.455,"y":1},{"v":0.58,"g":1,"x":0.47,"y":0.97},{"v":0.58,"g":1,"x":0.375,"y":0.925},{"v":0.58,"g":1,"x":0.255,"y":0.88},{"v":0.58,"g":1,"x":0.1,"y":0.8},{"v":0.58,"g":1,"x":0.075,"y":0.815},
{"v":0.58,"g":2,"x":0,"y":0.7},{"v":0.58,"g":2,"x":0.09,"y":0.78},{"v":0.58,"g":2,"x":0.15,"y":0.665},{"v":0.58,"g":2,"x":0.235,"y":0.53},{"v":0.58,"g":2,"x":0.24,"y":0.33},{"v":0.58,"g":2,"x":0.31,"y":0.27},{"v":0.58,"g":2,"x":0.415,"y":0.21},{"v":0.58,"g":2,"x":0.5,"y":0.21},{"v":0.58,"g":2,"x":0.655,"y":0.22},{"v":0.58,"g":2,"x":0.775,"y":0.32},{"v":0.58,"g":2,"x":0.79,"y":0.355},{"v":0.58,"g":2,"x":0.745,"y":0.495},{"v":0.58,"g":2,"x":0.775,"y":0.62},{"v":0.58,"g":2,"x":0.855,"y":0.715},{"v":0.58,"g":2,"x":1,"y":0.75},{"v":0.58,"g":2,"x":1.1,"y":0.75},{"v":0.58,"g":2,"x":1.1,"y":-0.1},{"v":0.58,"g":2,"x":-0.1,"y":-0.1},{"v":0.58,"g":2,"x":-0.1,"y":0.7},
{"v":0.51,"g":1,"x":0,"y":0.07},{"v":0.51,"g":1,"x":0.03,"y":0},{"v":0.51,"g":1,"x":0.03,"y":-0.1},{"v":0.51,"g":1,"x":-0.1,"y":-0.1},{"v":0.51,"g":1,"x":-0.1,"y":0.07},
{"v":0.67,"x":0,"y":0.64},{"v":0.67,"x":0.065,"y":0.68},{"v":0.67,"x":0.15,"y":0.62},{"v":0.67,"x":0.235,"y":0.48},{"v":0.67,"x":0.24,"y":0.33},{"v":0.67,"x":0.285,"y":0.27},{"v":0.67,"x":0.375,"y":0.2},{"v":0.67,"x":0.5,"y":0.185},{"v":0.67,"x":0.655,"y":0.2},{"v":0.67,"x":0.8,"y":0.285},{"v":0.67,"x":0.8,"y":0.37},{"v":0.67,"x":0.765,"y":0.495},{"v":0.67,"x":0.79,"y":0.605},{"v":0.67,"x":0.865,"y":0.69},{"v":0.67,"x":1,"y":0.725},{"v":0.67,"x":1.1,"y":0.725},{"v":0.67,"x":1.1,"y":-0.1},{"v":0.67,"x":0.05,"y":-0.1},{"v":0.67,"x":0.045,"y":0.01},{"v":0.67,"x":0.03,"y":0.12},{"v":0.67,"x":0.03,"y":0.26},{"v":0.67,"x":0,"y":0.345},{"v":0.67,"x":-0.1,"y":0.35},{"v":0.67,"x":-0.1,"y":0.64},
{"v":0.58,"g":3,"x":0.985,"y":0.2},{"v":0.58,"g":3,"x":1,"y":0.245},{"v":0.58,"g":3,"x":1.05,"y":0.245},{"v":0.58,"g":3,"x":1.05,"y":0.17},{"v":0.58,"g":3,"x":1,"y":0.17},
{"v":0.75,"g":1,"x":0,"y":0.545},{"v":0.75,"g":1,"x":0.065,"y":0.625},{"v":0.75,"g":1,"x":0.13,"y":0.58},{"v":0.75,"g":1,"x":0.2,"y":0.47},{"v":0.75,"g":1,"x":0.19,"y":0.37},{"v":0.75,"g":1,"x":0.13,"y":0.295},{"v":0.75,"g":1,"x":0.07,"y":0.33},{"v":0.75,"g":1,"x":0,"y":0.445},{"v":0.75,"g":1,"x":-0.02,"y":0.49},
{"v":0.75,"g":2,"x":0.085,"y":0.135},{"v":0.75,"g":2,"x":0.1,"y":0.21},{"v":0.75,"g":2,"x":0.14,"y":0.24},{"v":0.75,"g":2,"x":0.255,"y":0.195},{"v":0.75,"g":2,"x":0.39,"y":0.16},{"v":0.75,"g":2,"x":0.535,"y":0.155},{"v":0.75,"g":2,"x":0.695,"y":0.195},{"v":0.75,"g":2,"x":0.85,"y":0.27},{"v":0.75,"g":2,"x":0.8,"y":0.405},{"v":0.75,"g":2,"x":0.77,"y":0.52},{"v":0.75,"g":2,"x":0.85,"y":0.63},{"v":0.75,"g":2,"x":0.93,"y":0.675},{"v":0.75,"g":2,"x":1,"y":0.68},{"v":0.75,"g":2,"x":1.1,"y":0.68},{"v":0.75,"g":2,"x":1.1,"y":0.28},{"v":0.75,"g":2,"x":1,"y":0.29},{"v":0.75,"g":2,"x":0.945,"y":0.235},{"v":0.75,"g":2,"x":0.955,"y":0.12},{"v":0.75,"g":2,"x":0.98,"y":0},{"v":0.75,"g":2,"x":0.98,"y":-0.1},{"v":0.75,"g":2,"x":0.13,"y":-0.1},{"v":0.75,"g":2,"x":0.13,"y":0},{"v":0.75,"g":2,"x":0.1,"y":0.06},
{"v":0.82,"g":1,"x":0.035,"y":0.5},{"v":0.82,"g":1,"x":0.075,"y":0.57},{"v":0.82,"g":1,"x":0.125,"y":0.55},{"v":0.82,"g":1,"x":0.165,"y":0.47},{"v":0.82,"g":1,"x":0.145,"y":0.42},{"v":0.82,"g":1,"x":0.11,"y":0.39},{"v":0.82,"g":1,"x":0.065,"y":0.42},
{"v":0.82,"g":2,"x":0.17,"y":0.095},{"v":0.82,"g":2,"x":0.185,"y":0.13},{"v":0.82,"g":2,"x":0.335,"y":0.13},{"v":0.82,"g":2,"x":0.535,"y":0.12},{"v":0.82,"g":2,"x":0.695,"y":0.17},{"v":0.82,"g":2,"x":0.815,"y":0.22},{"v":0.82,"g":2,"x":0.85,"y":0.285},{"v":0.82,"g":2,"x":0.775,"y":0.48},{"v":0.82,"g":2,"x":0.8,"y":0.555},{"v":0.82,"g":2,"x":0.87,"y":0.625},{"v":0.82,"g":2,"x":1,"y":0.655},{"v":0.82,"g":2,"x":1.1,"y":0.655},{"v":0.82,"g":2,"x":1.1,"y":0.305},{"v":0.82,"g":2,"x":1,"y":0.305},{"v":0.82,"g":2,"x":0.945,"y":0.27},{"v":0.82,"g":2,"x":0.94,"y":0.22},{"v":0.82,"g":2,"x":0.955,"y":0.085},{"v":0.82,"g":2,"x":0.945,"y":0.01},{"v":0.82,"g":2,"x":0.93,"y":0},{"v":0.82,"g":2,"x":0.375,"y":0.01},{"v":0.82,"g":2,"x":0.235,"y":0.02},{"v":0.82,"g":2,"x":0.19,"y":0.06},
{"v":1.01,"g":1,"x":0.8,"y":0.505},{"v":1.01,"g":1,"x":0.83,"y":0.585},{"v":1.01,"g":1,"x":0.915,"y":0.645},{"v":1.01,"g":1,"x":1,"y":0.625},{"v":1.01,"g":1,"x":1.1,"y":0.62},{"v":1.01,"g":1,"x":1.1,"y":0.35},{"v":1.01,"g":1,"x":1,"y":0.35},{"v":1.01,"g":1,"x":0.93,"y":0.32},{"v":1.01,"g":1,"x":0.855,"y":0.37},{"v":1.01,"g":1,"x":0.81,"y":0.455},
{"v":1.01,"g":2,"x":0.61,"y":0.07},{"v":1.01,"g":2,"x":0.655,"y":0.12},{"v":1.01,"g":2,"x":0.775,"y":0.17},{"v":1.01,"g":2,"x":0.85,"y":0.185},{"v":1.01,"g":2,"x":0.905,"y":0.15},{"v":1.01,"g":2,"x":0.925,"y":0.09},{"v":1.01,"g":2,"x":0.905,"y":0.035},{"v":1.01,"g":2,"x":0.855,"y":0},{"v":1.01,"g":2,"x":0.735,"y":0},{"v":1.01,"g":2,"x":0.655,"y":0.03}],
"e":[{"v":0.54,"x":-0.2,"y":-0.2},{"v":0.54,"x":1.2,"y":-0.2},{"v":0.54,"x":1.2,"y":1.2},{"v":0.54,"x":-0.2,"y":1.2},
{"v":0.48,"g":1,"x":0.05,"y":1},{"v":0.48,"g":1,"x":0.01,"y":0.95},{"v":0.48,"g":1,"x":0.025,"y":0.875},{"v":0.48,"g":1,"x":0.065,"y":0.78},{"v":0.48,"g":1,"x":0.04,"y":0.74},{"v":0.48,"g":1,"x":0,"y":0.665},{"v":0.48,"g":1,"x":-0.1,"y":0.665},{"v":0.48,"g":1,"x":-0.1,"y":1.1},{"v":0.48,"g":1,"x":0.05,"y":1.1},
{"v":0.38,"g":1,"x":-0.03,"y":0.85},{"v":0.38,"g":1,"x":0,"y":0.85},{"v":0.38,"g":1,"x":0.025,"y":0.79},{"v":0.38,"g":1,"x":0.025,"y":0.77},{"v":0.38,"g":1,"x":0,"y":0.705},{"v":0.38,"g":1,"x":-0.03,"y":0.705},
{"v":0.48,"g":2,"x":0,"y":0.3},{"v":0.48,"g":2,"x":0.05,"y":0.23},{"v":0.48,"g":2,"x":0.055,"y":0.19},{"v":0.48,"g":2,"x":0.045,"y":0.11},{"v":0.48,"g":2,"x":0.08,"y":0.05},{"v":0.48,"g":2,"x":0.235,"y":0.01},{"v":0.48,"g":2,"x":0.475,"y":0},{"v":0.48,"g":2,"x":0.475,"y":-0.1},{"v":0.48,"g":2,"x":-0.1,"y":-0.1},{"v":0.48,"g":2,"x":-0.1,"y":0.3},
{"v":0.48,"g":3,"x":0.895,"y":1},{"v":0.48,"g":3,"x":0.95,"y":0.95},{"v":0.48,"g":3,"x":1,"y":0.9},{"v":0.48,"g":3,"x":1.1,"y":0.9},{"v":0.48,"g":3,"x":1.1,"y":1.1},{"v":0.48,"g":3,"x":0.895,"y":1.1},
{"v":0.38,"g":2,"x":0.98,"y":1},{"v":0.38,"g":2,"x":1,"y":0.965},{"v":0.38,"g":2,"x":1.1,"y":0.96},{"v":0.38,"g":2,"x":1.1,"y":1.1},{"v":0.38,"g":2,"x":0.98,"y":1.1},
{"v":0.48,"g":4,"x":0.99,"y":0.39},{"v":0.48,"g":4,"x":1,"y":0.42},{"v":0.48,"g":4,"x":1.1,"y":0.42},{"v":0.48,"g":4,"x":1.1,"y":0.13},{"v":0.48,"g":4,"x":1,"y":0.13},{"v":0.48,"g":4,"x":0.985,"y":0.25},
{"v":0.48,"g":5,"x":0.96,"y":0},{"v":0.48,"g":5,"x":1,"y":0.03},{"v":0.48,"g":5,"x":1.1,"y":0.03},{"v":0.48,"g":5,"x":1.1,"y":-0.1},{"v":0.48,"g":5,"x":0.96,"y":-0.1},
{"v":0.59,"g":1,"x":0.05,"y":1.04},{"v":0.59,"g":1,"x":0.05,"y":1},{"v":0.59,"g":1,"x":0.045,"y":0.95},{"v":0.59,"g":1,"x":0.065,"y":0.82},{"v":0.59,"g":1,"x":0.135,"y":0.765},{"v":0.59,"g":1,"x":0.235,"y":0.74},{"v":0.59,"g":1,"x":0.29,"y":0.75},{"v":0.59,"g":1,"x":0.475,"y":0.785},{"v":0.59,"g":1,"x":0.71,"y":0.75},{"v":0.59,"g":1,"x":0.755,"y":0.655},{"v":0.59,"g":1,"x":0.73,"y":0.46},{"v":0.59,"g":1,"x":0.67,"y":0.355},{"v":0.59,"g":1,"x":0.555,"y":0.33},{"v":0.59,"g":1,"x":0.475,"y":0.33},{"v":0.59,"g":1,"x":0.365,"y":0.265},{"v":0.59,"g":1,"x":0.215,"y":0.105},{"v":0.59,"g":1,"x":0.235,"y":0.075},{"v":0.59,"g":1,"x":0.395,"y":0.03},{"v":0.59,"g":1,"x":0.71,"y":0.01},{"v":0.59,"g":1,"x":0.955,"y":0.01},{"v":0.59,"g":1,"x":0.98,"y":0.125},{"v":0.59,"g":1,"x":0.97,"y":0.295},{"v":0.59,"g":1,"x":0.98,"y":0.445},{"v":0.59,"g":1,"x":0.99,"y":0.77},{"v":0.59,"g":1,"x":0.98,"y":0.91},{"v":0.59,"g":1,"x":0.9,"y":0.985},{"v":0.59,"g":1,"x":0.895,"y":1},{"v":0.59,"g":1,"x":0.895,"y":1.04},
{"v":0.59,"g":2,"x":0,"y":0.66},{"v":0.59,"g":2,"x":0.055,"y":0.705},{"v":0.59,"g":2,"x":0.12,"y":0.71},{"v":0.59,"g":2,"x":0.19,"y":0.655},{"v":0.59,"g":2,"x":0.27,"y":0.55},{"v":0.59,"g":2,"x":0.315,"y":0.45},{"v":0.59,"g":2,"x":0.31,"y":0.355},{"v":0.59,"g":2,"x":0.235,"y":0.295},{"v":0.59,"g":2,"x":0.14,"y":0.275},{"v":0.59,"g":2,"x":0.055,"y":0.29},{"v":0.59,"g":2,"x":0,"y":0.37},{"v":0.59,"g":2,"x":-0.03,"y":0.515},
{"v":0.65,"g":1,"x":0.075,"y":0.925},{"v":0.65,"g":1,"x":0.11,"y":0.985},{"v":0.65,"g":1,"x":0.2,"y":1},{"v":0.65,"g":1,"x":0.475,"y":1},{"v":0.65,"g":1,"x":0.635,"y":0.985},{"v":0.65,"g":1,"x":0.84,"y":0.955},{"v":0.65,"g":1,"x":0.95,"y":0.91},{"v":0.65,"g":1,"x":0.97,"y":0.755},{"v":0.65,"g":1,"x":0.965,"y":0.475},{"v":0.65,"g":1,"x":0.945,"y":0.295},{"v":0.65,"g":1,"x":0.96,"y":0.19},{"v":0.65,"g":1,"x":0.94,"y":0.06},{"v":0.65,"g":1,"x":0.71,"y":0.03},{"v":0.65,"g":1,"x":0.475,"y":0.02},{"v":0.65,"g":1,"x":0.275,"y":0.06},{"v":0.65,"g":1,"x":0.22,"y":0.105},{"v":0.65,"g":1,"x":0.355,"y":0.265},{"v":0.65,"g":1,"x":0.475,"y":0.305},{"v":0.65,"g":1,"x":0.635,"y":0.33},{"v":0.65,"g":1,"x":0.745,"y":0.385},{"v":0.65,"g":1,"x":0.78,"y":0.55},{"v":0.65,"g":1,"x":0.785,"y":0.705},{"v":0.65,"g":1,"x":0.71,"y":0.815},{"v":0.65,"g":1,"x":0.475,"y":0.81},{"v":0.65,"g":1,"x":0.235,"y":0.775},{"v":0.65,"g":1,"x":0.12,"y":0.81},
{"v":0.65,"g":2,"x":0,"y":0.62},{"v":0.65,"g":2,"x":0.08,"y":0.665},{"v":0.65,"g":2,"x":0.16,"y":0.63},{"v":0.65,"g":2,"x":0.235,"y":0.54},{"v":0.65,"g":2,"x":0.25,"y":0.475},{"v":0.65,"g":2,"x":0.23,"y":0.37},{"v":0.65,"g":2,"x":0.15,"y":0.32},{"v":0.65,"g":2,"x":0.055,"y":0.345},{"v":0.65,"g":2,"x":0,"y":0.41},{"v":0.65,"g":2,"x":-0.03,"y":0.515},
{"v":0.69,"g":1,"x":0.115,"y":0.925},{"v":0.69,"g":1,"x":0.16,"y":0.975},{"v":0.69,"g":1,"x":0.275,"y":0.99},{"v":0.69,"g":1,"x":0.435,"y":0.99},{"v":0.69,"g":1,"x":0.635,"y":0.93},{"v":0.69,"g":1,"x":0.79,"y":0.9},{"v":0.69,"g":1,"x":0.935,"y":0.88},{"v":0.69,"g":1,"x":0.955,"y":0.755},{"v":0.69,"g":1,"x":0.94,"y":0.51},{"v":0.69,"g":1,"x":0.91,"y":0.32},{"v":0.69,"g":1,"x":0.93,"y":0.2},{"v":0.69,"g":1,"x":0.92,"y":0.085},{"v":0.69,"g":1,"x":0.71,"y":0.055},{"v":0.69,"g":1,"x":0.41,"y":0.05},{"v":0.69,"g":1,"x":0.315,"y":0.11},{"v":0.69,"g":1,"x":0.395,"y":0.235},{"v":0.69,"g":1,"x":0.555,"y":0.295},{"v":0.69,"g":1,"x":0.76,"y":0.345},{"v":0.69,"g":1,"x":0.815,"y":0.51},{"v":0.69,"g":1,"x":0.86,"y":0.69},{"v":0.69,"g":1,"x":0.8,"y":0.795},{"v":0.69,"g":1,"x":0.71,"y":0.84},{"v":0.69,"g":1,"x":0.475,"y":0.85},{"v":0.69,"g":1,"x":0.18,"y":0.83},
{"v":0.69,"g":2,"x":0,"y":0.585},{"v":0.69,"g":2,"x":0.055,"y":0.63},{"v":0.69,"g":2,"x":0.125,"y":0.635},{"v":0.69,"g":2,"x":0.2,"y":0.575},{"v":0.69,"g":2,"x":0.235,"y":0.5},{"v":0.69,"g":2,"x":0.215,"y":0.41},{"v":0.69,"g":2,"x":0.14,"y":0.35},{"v":0.69,"g":2,"x":0.055,"y":0.375},{"v":0.69,"g":2,"x":0,"y":0.435},{"v":0.69,"g":2,"x":-0.03,"y":0.515},
{"v":0.73,"g":1,"x":0.79,"y":0.875},{"v":0.73,"g":1,"x":0.83,"y":0.9},{"v":0.73,"g":1,"x":0.92,"y":0.89},{"v":0.73,"g":1,"x":0.955,"y":0.785},{"v":0.73,"g":1,"x":0.94,"y":0.54},{"v":0.73,"g":1,"x":0.91,"y":0.33},{"v":0.73,"g":1,"x":0.925,"y":0.2},{"v":0.73,"g":1,"x":0.91,"y":0.11},{"v":0.73,"g":1,"x":0.79,"y":0.065},{"v":0.73,"g":1,"x":0.595,"y":0.05},{"v":0.73,"g":1,"x":0.445,"y":0.075},{"v":0.73,"g":1,"x":0.36,"y":0.13},{"v":0.73,"g":1,"x":0.405,"y":0.19},{"v":0.73,"g":1,"x":0.515,"y":0.255},{"v":0.73,"g":1,"x":0.67,"y":0.265},{"v":0.73,"g":1,"x":0.79,"y":0.32},{"v":0.73,"g":1,"x":0.815,"y":0.475},{"v":0.73,"g":1,"x":0.87,"y":0.69},{"v":0.73,"g":1,"x":0.815,"y":0.835},
{"v":0.73,"g":2,"x":0.16,"y":0.925},{"v":0.73,"g":2,"x":0.19,"y":0.965},{"v":0.73,"g":2,"x":0.275,"y":0.985},{"v":0.73,"g":2,"x":0.475,"y":0.985},{"v":0.73,"g":2,"x":0.595,"y":0.95},{"v":0.73,"g":2,"x":0.63,"y":0.92},{"v":0.73,"g":2,"x":0.595,"y":0.88},{"v":0.73,"g":2,"x":0.435,"y":0.86},{"v":0.73,"g":2,"x":0.235,"y":0.855},{"v":0.73,"g":2,"x":0.18,"y":0.885},
{"v":0.73,"g":3,"x":0,"y":0.55},{"v":0.73,"g":3,"x":0.065,"y":0.615},{"v":0.73,"g":3,"x":0.16,"y":0.615},{"v":0.73,"g":3,"x":0.225,"y":0.5},{"v":0.73,"g":3,"x":0.2,"y":0.395},{"v":0.73,"g":3,"x":0.11,"y":0.37},{"v":0.73,"g":3,"x":0.03,"y":0.41},{"v":0.73,"g":3,"x":-0.02,"y":0.49},
{"v":0.8,"g":1,"x":0.21,"y":0.925},{"v":0.8,"g":1,"x":0.255,"y":0.965},{"v":0.8,"g":1,"x":0.395,"y":0.975},{"v":0.8,"g":1,"x":0.52,"y":0.95},{"v":0.8,"g":1,"x":0.56,"y":0.925},{"v":0.8,"g":1,"x":0.52,"y":0.89},{"v":0.8,"g":1,"x":0.395,"y":0.87},{"v":0.8,"g":1,"x":0.26,"y":0.88},
{"v":0.8,"g":2,"x":0.01,"y":0.5},{"v":0.8,"g":2,"x":0.04,"y":0.585},{"v":0.8,"g":2,"x":0.11,"y":0.61},{"v":0.8,"g":2,"x":0.175,"y":0.585},{"v":0.8,"g":2,"x":0.21,"y":0.5},{"v":0.8,"g":2,"x":0.18,"y":0.42},{"v":0.8,"g":2,"x":0.11,"y":0.395},{"v":0.8,"g":2,"x":0.04,"y":0.42},
{"v":0.8,"g":3,"x":0.85,"y":0.485},{"v":0.8,"g":3,"x":0.86,"y":0.55},{"v":0.8,"g":3,"x":0.905,"y":0.635},{"v":0.8,"g":3,"x":0.92,"y":0.63},{"v":0.8,"g":3,"x":0.93,"y":0.55},{"v":0.8,"g":3,"x":0.915,"y":0.475},{"v":0.8,"g":3,"x":0.875,"y":0.42},{"v":0.8,"g":3,"x":0.855,"y":0.45},
{"v":0.8,"g":4,"x":0.87,"y":0.825},{"v":0.8,"g":4,"x":0.885,"y":0.83},{"v":0.8,"g":4,"x":0.91,"y":0.8},{"v":0.8,"g":4,"x":0.905,"y":0.765},{"v":0.8,"g":4,"x":0.89,"y":0.77},
{"v":0.8,"g":5,"x":0.44,"y":0.125},{"v":0.8,"g":5,"x":0.465,"y":0.185},{"v":0.8,"g":5,"x":0.555,"y":0.205},{"v":0.8,"g":5,"x":0.71,"y":0.205},{"v":0.8,"g":5,"x":0.82,"y":0.23},{"v":0.8,"g":5,"x":0.86,"y":0.225},{"v":0.8,"g":5,"x":0.88,"y":0.165},{"v":0.8,"g":5,"x":0.855,"y":0.11},{"v":0.8,"g":5,"x":0.71,"y":0.065},{"v":0.8,"g":5,"x":0.575,"y":0.055},{"v":0.8,"g":5,"x":0.475,"y":0.075},
{"v":0.48,"g":6,"x":0.29,"y":0.68},{"v":0.48,"g":6,"x":0.33,"y":0.72},{"v":0.48,"g":6,"x":0.475,"y":0.745},{"v":0.48,"g":6,"x":0.635,"y":0.75},{"v":0.48,"g":6,"x":0.71,"y":0.72},{"v":0.48,"g":6,"x":0.73,"y":0.64},{"v":0.48,"g":6,"x":0.705,"y":0.525},{"v":0.48,"g":6,"x":0.635,"y":0.42},{"v":0.48,"g":6,"x":0.52,"y":0.385},{"v":0.48,"g":6,"x":0.41,"y":0.385},{"v":0.48,"g":6,"x":0.365,"y":0.435},{"v":0.48,"g":6,"x":0.33,"y":0.54},
{"v":0.38,"g":3,"x":0.36,"y":0.63},{"v":0.38,"g":3,"x":0.395,"y":0.685},{"v":0.38,"g":3,"x":0.475,"y":0.71},{"v":0.38,"g":3,"x":0.57,"y":0.72},{"v":0.38,"g":3,"x":0.65,"y":0.695},{"v":0.38,"g":3,"x":0.675,"y":0.63},{"v":0.38,"g":3,"x":0.65,"y":0.55},{"v":0.38,"g":3,"x":0.585,"y":0.48},{"v":0.38,"g":3,"x":0.515,"y":0.46},{"v":0.38,"g":3,"x":0.435,"y":0.49},{"v":0.38,"g":3,"x":0.38,"y":0.565}]
},
"vconcat":[
{"bounds":"flush","spacing":0,"resolve":{"scale":{"color":"independent"}},"hconcat":[{"width":578,"height":1,"data":{"values":[]},"mark":"rect"},
{"width":441,"height":253,"view":{"stroke":"#bbb"},"title":"P-60","layer":[{"data":{"name":"ap"},"mark":{"type":"line","interpolate":"catmull-rom-closed","filled":true,"clip":true,"strokeWidth":0},"encoding":{"x":{"field":"x","type":"quantitative","scale":{"domain":[0,1]},"axis":{"values":[0,0.2,0.4,0.6,0.8,1],"format":".1f","title":"X","titlePadding":0,"labelPadding":-1}},"y":{"field":"y","type":"quantitative","scale":{"domain":[0,1]},"axis":{"values":[0,0.2,0.4,0.6,0.8,1],"format":".1f","title":"Y","titlePadding":1}},"order":{"value":null},"detail":{"field":"g"},"color":{"field":"v","type":"quantitative","scale":{"scheme":"viridis","domain":[0.08,1.49]},"legend":null}}},
{"data":{"values":[{"x":0.068,"t":"("},{"x":0.134,"t":") Powder Epoxy Coating (60 months)"}]},"mark":{"type":"text"},"encoding":{"x":{"field":"x","type":"quantitative"},"y":{"datum":-0.245},"text":{"field":"t"}}},
{"data":{"values":[{"x":0.088,"t":"a′"}]},"mark":{"type":"text","fontWeight":"bold"},"encoding":{"x":{"field":"x","type":"quantitative"},"y":{"datum":-0.245},"text":{"field":"t"}}}]},
{"width":28,"height":1,"data":{"values":[]},"mark":"rect"},
{"width":12,"height":253,"view":{"stroke":"#bbb"},"data":{"values":[{"i":0,"j":1,"m":0.14,"t":"0.08"},{"i":1,"j":2,"m":0.26,"t":"0.20"},{"i":2,"j":3,"m":0.38,"t":"0.32"},{"i":3,"j":4,"m":0.49,"t":"0.43"},{"i":4,"j":5,"m":0.61,"t":"0.54"},{"i":5,"j":6,"m":0.72,"t":"0.67"},{"i":6,"j":7,"m":0.87,"t":"0.76"},{"i":7,"j":8,"m":1.1,"t":"0.97"},{"i":8,"j":9,"m":1.36,"t":"1.22"},{"i":9,"j":9,"m":1.49,"t":"1.49"}]},"layer":[{"mark":"rect","encoding":{"y":{"field":"i","type":"quantitative","scale":{"domain":[0,9]},"axis":null},"y2":{"field":"j"},"color":{"field":"m","type":"quantitative","scale":{"scheme":"viridis","domain":[0.08,1.49]},"legend":null}}},{"mark":{"type":"text","dx":3,"baseline":"middle","font":"Liberation Sans","fontSize":9.5,"color":"#444"},"encoding":{"y":{"field":"i","type":"quantitative"},"x":{"datum":1,"scale":{"domain":[0,1]},"axis":null},"text":{"field":"t"}}}]}]},
{"width":1,"height":1,"data":{"values":[]},"mark":"rect"},
{"bounds":"flush","spacing":0,"resolve":{"scale":{"color":"independent"}},"hconcat":[{"width":6,"height":1,"data":{"values":[]},"mark":"rect"},
{"width":443,"height":254,"view":{"stroke":"#bbb"},"title":"P-24","layer":[{"data":{"name":"a"},"mark":{"type":"line","interpolate":"catmull-rom-closed","filled":true,"clip":true,"strokeWidth":0},"encoding":{"x":{"field":"x","type":"quantitative","scale":{"domain":[0,1]},"axis":{"values":[0,0.2,0.4,0.6,0.8,1],"format":".1f","title":"X","titlePadding":0,"labelPadding":-1}},"y":{"field":"y","type":"quantitative","scale":{"domain":[0,1]},"axis":{"values":[0,0.2,0.4,0.6,0.8,1],"format":".1f","title":"Y","titlePadding":1}},"order":{"value":null},"detail":{"field":"g"},"color":{"field":"v","type":"quantitative","scale":{"scheme":"viridis","domain":[0.06,0.75]},"legend":null}}},
{"data":{"values":[{"x":0.072,"t":"("},{"x":0.121,"t":") Powder Epoxy Coating (24 months)"}]},"mark":{"type":"text"},"encoding":{"x":{"field":"x","type":"quantitative"},"y":{"datum":-0.236},"text":{"field":"t"}}},
{"data":{"values":[{"x":0.092,"t":"a"}]},"mark":{"type":"text","fontWeight":"bold"},"encoding":{"x":{"field":"x","type":"quantitative"},"y":{"datum":-0.236},"text":{"field":"t"}}}]},
{"width":28,"height":1,"data":{"values":[]},"mark":"rect"},
{"width":12,"height":254,"view":{"stroke":"#bbb"},"data":{"values":[{"i":0,"j":1,"m":0.11,"t":"0.06"},{"i":1,"j":2,"m":0.2,"t":"0.16"},{"i":2,"j":3,"m":0.27,"t":"0.24"},{"i":3,"j":4,"m":0.32,"t":"0.29"},{"i":4,"j":5,"m":0.37,"t":"0.34"},{"i":5,"j":6,"m":0.43,"t":"0.40"},{"i":6,"j":7,"m":0.48,"t":"0.45"},{"i":7,"j":8,"m":0.55,"t":"0.51"},{"i":8,"j":9,"m":0.67,"t":"0.59"},{"i":9,"j":9,"m":0.75,"t":"0.75"}]},"layer":[{"mark":"rect","encoding":{"y":{"field":"i","type":"quantitative","scale":{"domain":[0,9]},"axis":null},"y2":{"field":"j"},"color":{"field":"m","type":"quantitative","scale":{"scheme":"viridis","domain":[0.06,0.75]},"legend":null}}},{"mark":{"type":"text","dx":3,"baseline":"middle","font":"Liberation Sans","fontSize":9.5,"color":"#444"},"encoding":{"y":{"field":"i","type":"quantitative"},"x":{"datum":1,"scale":{"domain":[0,1]},"axis":null},"text":{"field":"t"}}}]}]},
{"width":1,"height":348,"data":{"values":[]},"mark":"rect"},
{"bounds":"flush","spacing":0,"resolve":{"scale":{"color":"independent"}},"hconcat":[{"width":577,"height":1,"data":{"values":[]},"mark":"rect"},
{"width":442,"height":254,"view":{"stroke":"#bbb"},"title":"F-60","layer":[{"data":{"name":"bp"},"mark":{"type":"line","interpolate":"catmull-rom-closed","filled":true,"clip":true,"strokeWidth":0},"encoding":{"x":{"field":"x","type":"quantitative","scale":{"domain":[0,1]},"axis":{"values":[0,0.2,0.4,0.6,0.8,1],"format":".1f","title":"X","titlePadding":0,"labelPadding":-1}},"y":{"field":"y","type":"quantitative","scale":{"domain":[0,1]},"axis":{"values":[0,0.2,0.4,0.6,0.8,1],"format":".1f","title":"Y","titlePadding":1}},"order":{"value":null},"detail":{"field":"g"},"color":{"field":"v","type":"quantitative","scale":{"scheme":"viridis","domain":[0.07,1.25]},"legend":null}}},
{"data":{"values":[{"x":0.084,"t":"("},{"x":0.152,"t":") Fluorocarbon Coating (60 months)"}]},"mark":{"type":"text"},"encoding":{"x":{"field":"x","type":"quantitative"},"y":{"datum":-0.252},"text":{"field":"t"}}},
{"data":{"values":[{"x":0.104,"t":"b′"}]},"mark":{"type":"text","fontWeight":"bold"},"encoding":{"x":{"field":"x","type":"quantitative"},"y":{"datum":-0.252},"text":{"field":"t"}}}]},
{"width":28,"height":1,"data":{"values":[]},"mark":"rect"},
{"width":12,"height":254,"view":{"stroke":"#bbb"},"data":{"values":[{"i":0,"j":1,"m":0.13,"t":"0.07"},{"i":1,"j":2,"m":0.23,"t":"0.18"},{"i":2,"j":3,"m":0.32,"t":"0.27"},{"i":3,"j":4,"m":0.44,"t":"0.36"},{"i":4,"j":5,"m":0.59,"t":"0.51"},{"i":5,"j":6,"m":0.76,"t":"0.67"},{"i":6,"j":7,"m":0.92,"t":"0.84"},{"i":7,"j":8,"m":1.06,"t":"0.99"},{"i":8,"j":9,"m":1.19,"t":"1.13"},{"i":9,"j":9,"m":1.25,"t":"1.25"}]},"layer":[{"mark":"rect","encoding":{"y":{"field":"i","type":"quantitative","scale":{"domain":[0,9]},"axis":null},"y2":{"field":"j"},"color":{"field":"m","type":"quantitative","scale":{"scheme":"viridis","domain":[0.07,1.25]},"legend":null}}},{"mark":{"type":"text","dx":3,"baseline":"middle","font":"Liberation Sans","fontSize":9.5,"color":"#444"},"encoding":{"y":{"field":"i","type":"quantitative"},"x":{"datum":1,"scale":{"domain":[0,1]},"axis":null},"text":{"field":"t"}}}]}]},
{"width":1,"height":2,"data":{"values":[]},"mark":"rect"},
{"bounds":"flush","spacing":0,"resolve":{"scale":{"color":"independent"}},"hconcat":[{"width":5,"height":1,"data":{"values":[]},"mark":"rect"},
{"width":444,"height":254,"view":{"stroke":"#bbb"},"title":"F-24","layer":[{"data":{"name":"b"},"mark":{"type":"line","interpolate":"catmull-rom-closed","filled":true,"clip":true,"strokeWidth":0},"encoding":{"x":{"field":"x","type":"quantitative","scale":{"domain":[0,1]},"axis":{"values":[0,0.2,0.4,0.6,0.8,1],"format":".1f","title":"X","titlePadding":0,"labelPadding":-1}},"y":{"field":"y","type":"quantitative","scale":{"domain":[0,1]},"axis":{"values":[0,0.2,0.4,0.6,0.8,1],"format":".1f","title":"Y","titlePadding":1}},"order":{"value":null},"detail":{"field":"g"},"color":{"field":"v","type":"quantitative","scale":{"scheme":"viridis","domain":[0.08,0.79]},"legend":null}}},
{"data":{"values":[{"x":0.087,"t":"("},{"x":0.139,"t":") Fluorocarbon Coating (24 months)"}]},"mark":{"type":"text"},"encoding":{"x":{"field":"x","type":"quantitative"},"y":{"datum":-0.244},"text":{"field":"t"}}},
{"data":{"values":[{"x":0.107,"t":"b"}]},"mark":{"type":"text","fontWeight":"bold"},"encoding":{"x":{"field":"x","type":"quantitative"},"y":{"datum":-0.244},"text":{"field":"t"}}}]},
{"width":28,"height":1,"data":{"values":[]},"mark":"rect"},
{"width":12,"height":254,"view":{"stroke":"#bbb"},"data":{"values":[{"i":0,"j":1,"m":0.14,"t":"0.08"},{"i":1,"j":2,"m":0.23,"t":"0.19"},{"i":2,"j":3,"m":0.3,"t":"0.26"},{"i":3,"j":4,"m":0.37,"t":"0.33"},{"i":4,"j":5,"m":0.44,"t":"0.40"},{"i":5,"j":6,"m":0.52,"t":"0.48"},{"i":6,"j":7,"m":0.58,"t":"0.55"},{"i":7,"j":8,"m":0.64,"t":"0.61"},{"i":8,"j":9,"m":0.73,"t":"0.67"},{"i":9,"j":9,"m":0.79,"t":"0.79"}]},"layer":[{"mark":"rect","encoding":{"y":{"field":"i","type":"quantitative","scale":{"domain":[0,9]},"axis":null},"y2":{"field":"j"},"color":{"field":"m","type":"quantitative","scale":{"scheme":"viridis","domain":[0.08,0.79]},"legend":null}}},{"mark":{"type":"text","dx":3,"baseline":"middle","font":"Liberation Sans","fontSize":9.5,"color":"#444"},"encoding":{"y":{"field":"i","type":"quantitative"},"x":{"datum":1,"scale":{"domain":[0,1]},"axis":null},"text":{"field":"t"}}}]}]},
{"width":1,"height":347,"data":{"values":[]},"mark":"rect"},
{"bounds":"flush","spacing":0,"resolve":{"scale":{"color":"independent"}},"hconcat":[{"width":575,"height":1,"data":{"values":[]},"mark":"rect"},
{"width":444,"height":254,"view":{"stroke":"#bbb"},"title":"E-60","layer":[{"data":{"name":"cp"},"mark":{"type":"line","interpolate":"catmull-rom-closed","filled":true,"clip":true,"strokeWidth":0},"encoding":{"x":{"field":"x","type":"quantitative","scale":{"domain":[0,1]},"axis":{"values":[0,0.2,0.4,0.6,0.8,1],"format":".1f","title":"X","titlePadding":0,"labelPadding":-1}},"y":{"field":"y","type":"quantitative","scale":{"domain":[0,1]},"axis":{"values":[0,0.2,0.4,0.6,0.8,1],"format":".1f","title":"Y","titlePadding":1}},"order":{"value":null},"detail":{"field":"g"},"color":{"field":"v","type":"quantitative","scale":{"scheme":"viridis","domain":[0.17,1.11]},"legend":null}}},
{"data":{"values":[{"x":0.177,"t":"("},{"x":0.238,"t":") Epoxy Coating (60 months)"}]},"mark":{"type":"text"},"encoding":{"x":{"field":"x","type":"quantitative"},"y":{"datum":-0.26},"text":{"field":"t"}}},
{"data":{"values":[{"x":0.196,"t":"c′"}]},"mark":{"type":"text","fontWeight":"bold"},"encoding":{"x":{"field":"x","type":"quantitative"},"y":{"datum":-0.26},"text":{"field":"t"}}}]},
{"width":29,"height":1,"data":{"values":[]},"mark":"rect"},
{"width":12,"height":254,"view":{"stroke":"#bbb"},"data":{"values":[{"i":0,"j":1,"m":0.29,"t":"0.17"},{"i":1,"j":2,"m":0.47,"t":"0.41"},{"i":2,"j":3,"m":0.58,"t":"0.53"},{"i":3,"j":4,"m":0.66,"t":"0.62"},{"i":4,"j":5,"m":0.73,"t":"0.70"},{"i":5,"j":6,"m":0.79,"t":"0.76"},{"i":6,"j":7,"m":0.84,"t":"0.81"},{"i":7,"j":8,"m":0.89,"t":"0.86"},{"i":8,"j":9,"m":1.02,"t":"0.92"},{"i":9,"j":9,"m":1.11,"t":"1.11"}]},"layer":[{"mark":"rect","encoding":{"y":{"field":"i","type":"quantitative","scale":{"domain":[0,9]},"axis":null},"y2":{"field":"j"},"color":{"field":"m","type":"quantitative","scale":{"scheme":"viridis","domain":[0.17,1.11]},"legend":null}}},{"mark":{"type":"text","dx":3,"baseline":"middle","font":"Liberation Sans","fontSize":9.5,"color":"#444"},"encoding":{"y":{"field":"i","type":"quantitative"},"x":{"datum":1,"scale":{"domain":[0,1]},"axis":null},"text":{"field":"t"}}}]}]},
{"width":1,"height":1,"data":{"values":[]},"mark":"rect"},
{"bounds":"flush","spacing":0,"resolve":{"scale":{"color":"independent"}},"hconcat":[{"width":4,"height":1,"data":{"values":[]},"mark":"rect"},
{"width":447,"height":258,"view":{"stroke":"#bbb"},"title":"E-24","layer":[{"data":{"name":"c"},"mark":{"type":"line","interpolate":"catmull-rom-closed","filled":true,"clip":true,"strokeWidth":0},"encoding":{"x":{"field":"x","type":"quantitative","scale":{"domain":[0,1]},"axis":{"values":[0,0.2,0.4,0.6,0.8,1],"format":".1f","title":"X","titlePadding":0,"labelPadding":-1}},"y":{"field":"y","type":"quantitative","scale":{"domain":[0,1]},"axis":{"values":[0,0.2,0.4,0.6,0.8,1],"format":".1f","title":"Y","titlePadding":1}},"order":{"value":null},"detail":{"field":"g"},"color":{"field":"v","type":"quantitative","scale":{"scheme":"viridis","domain":[0.12,1.03]},"legend":null}}},
{"data":{"values":[{"x":0.178,"t":"("},{"x":0.223,"t":") Epoxy Coating (24 months)"}]},"mark":{"type":"text"},"encoding":{"x":{"field":"x","type":"quantitative"},"y":{"datum":-0.236},"text":{"field":"t"}}},
{"data":{"values":[{"x":0.197,"t":"c"}]},"mark":{"type":"text","fontWeight":"bold"},"encoding":{"x":{"field":"x","type":"quantitative"},"y":{"datum":-0.236},"text":{"field":"t"}}}]},
{"width":28,"height":1,"data":{"values":[]},"mark":"rect"},
{"width":13,"height":258,"view":{"stroke":"#bbb"},"data":{"values":[{"i":0,"j":1,"m":0.22,"t":"0.12"},{"i":1,"j":2,"m":0.38,"t":"0.31"},{"i":2,"j":3,"m":0.47,"t":"0.44"},{"i":3,"j":4,"m":0.53,"t":"0.50"},{"i":4,"j":5,"m":0.58,"t":"0.56"},{"i":5,"j":6,"m":0.62,"t":"0.60"},{"i":6,"j":7,"m":0.67,"t":"0.64"},{"i":7,"j":8,"m":0.72,"t":"0.69"},{"i":8,"j":9,"m":0.89,"t":"0.74"},{"i":9,"j":9,"m":1.03,"t":"1.03"}]},"layer":[{"mark":"rect","encoding":{"y":{"field":"i","type":"quantitative","scale":{"domain":[0,9]},"axis":null},"y2":{"field":"j"},"color":{"field":"m","type":"quantitative","scale":{"scheme":"viridis","domain":[0.12,1.03]},"legend":null}}},{"mark":{"type":"text","dx":3,"baseline":"middle","font":"Liberation Sans","fontSize":9.5,"color":"#444"},"encoding":{"y":{"field":"i","type":"quantitative"},"x":{"datum":1,"scale":{"domain":[0,1]},"axis":null},"text":{"field":"t"}}}]}]},
{"width":1,"height":357,"data":{"values":[]},"mark":"rect"},
{"bounds":"flush","spacing":0,"resolve":{"scale":{"color":"independent"}},"hconcat":[
{"width":450,"height":268,"view":{"stroke":"#bbb"},"title":"C-24","layer":[{"data":{"name":"d"},"mark":{"type":"line","interpolate":"catmull-rom-closed","filled":true,"clip":true,"strokeWidth":0},"encoding":{"x":{"field":"x","type":"quantitative","scale":{"domain":[0,1]},"axis":{"values":[0,0.2,0.4,0.6,0.8,1],"format":".1f","title":"X","titlePadding":0,"labelPadding":-1}},"y":{"field":"y","type":"quantitative","scale":{"domain":[0,1]},"axis":{"values":[0,0.2,0.4,0.6,0.8,1],"format":".1f","title":"Y","titlePadding":1}},"order":{"value":null},"detail":{"field":"g"},"color":{"field":"v","type":"quantitative","scale":{"scheme":"viridis","domain":[0.07,0.81]},"legend":null}}},
{"data":{"values":[{"x":0.018,"t":"("},{"x":0.07,"t":") Chlorinated Rubber Coating (24 months)"}]},"mark":{"type":"text"},"encoding":{"x":{"field":"x","type":"quantitative"},"y":{"datum":-0.209},"text":{"field":"t"}}},
{"data":{"values":[{"x":0.037,"t":"d"}]},"mark":{"type":"text","fontWeight":"bold"},"encoding":{"x":{"field":"x","type":"quantitative"},"y":{"datum":-0.209},"text":{"field":"t"}}}]},
{"width":29,"height":1,"data":{"values":[]},"mark":"rect"},
{"width":12,"height":268,"view":{"stroke":"#bbb"},"data":{"values":[{"i":0,"j":1,"m":0.13,"t":"0.07"},{"i":1,"j":2,"m":0.24,"t":"0.19"},{"i":2,"j":3,"m":0.33,"t":"0.29"},{"i":3,"j":4,"m":0.39,"t":"0.36"},{"i":4,"j":5,"m":0.44,"t":"0.42"},{"i":5,"j":6,"m":0.49,"t":"0.46"},{"i":6,"j":7,"m":0.55,"t":"0.51"},{"i":7,"j":8,"m":0.63,"t":"0.59"},{"i":8,"j":9,"m":0.74,"t":"0.67"},{"i":9,"j":9,"m":0.81,"t":"0.81"}]},"layer":[{"mark":"rect","encoding":{"y":{"field":"i","type":"quantitative","scale":{"domain":[0,9]},"axis":null},"y2":{"field":"j"},"color":{"field":"m","type":"quantitative","scale":{"scheme":"viridis","domain":[0.07,0.81]},"legend":null}}},{"mark":{"type":"text","dx":3,"baseline":"middle","font":"Liberation Sans","fontSize":9.5,"color":"#444"},"encoding":{"y":{"field":"i","type":"quantitative"},"x":{"datum":1,"scale":{"domain":[0,1]},"axis":null},"text":{"field":"t"}}}]}]},
{"width":1,"height":1,"data":{"values":[]},"mark":"rect"},
{"bounds":"flush","spacing":0,"resolve":{"scale":{"color":"independent"}},"hconcat":[{"width":580,"height":1,"data":{"values":[]},"mark":"rect"},
{"width":444,"height":269,"view":{"stroke":"#bbb"},"title":"C-60","layer":[{"data":{"name":"dp"},"mark":{"type":"line","interpolate":"catmull-rom-closed","filled":true,"clip":true,"strokeWidth":0},"encoding":{"x":{"field":"x","type":"quantitative","scale":{"domain":[0,1]},"axis":{"values":[0,0.2,0.4,0.6,0.8,1],"format":".1f","title":"X","titlePadding":0,"labelPadding":-1}},"y":{"field":"y","type":"quantitative","scale":{"domain":[0,1]},"axis":{"values":[0,0.2,0.4,0.6,0.8,1],"format":".1f","title":"Y","titlePadding":1}},"order":{"value":null},"detail":{"field":"g"},"color":{"field":"v","type":"quantitative","scale":{"scheme":"viridis","domain":[0.12,1.16]},"legend":null}}},
{"data":{"values":[{"x":-0.005,"t":"("},{"x":0.063,"t":") Chlorinated Rubber Coating (60 months)"}]},"mark":{"type":"text"},"encoding":{"x":{"field":"x","type":"quantitative"},"y":{"datum":-0.2},"text":{"field":"t"}}},
{"data":{"values":[{"x":0.015,"t":"d′"}]},"mark":{"type":"text","fontWeight":"bold"},"encoding":{"x":{"field":"x","type":"quantitative"},"y":{"datum":-0.2},"text":{"field":"t"}}}]},
{"width":27,"height":1,"data":{"values":[]},"mark":"rect"},
{"width":12,"height":269,"view":{"stroke":"#bbb"},"data":{"values":[{"i":0,"j":1,"m":0.2,"t":"0.12"},{"i":1,"j":2,"m":0.34,"t":"0.28"},{"i":2,"j":3,"m":0.43,"t":"0.39"},{"i":3,"j":4,"m":0.51,"t":"0.47"},{"i":4,"j":5,"m":0.58,"t":"0.54"},{"i":5,"j":6,"m":0.67,"t":"0.62"},{"i":6,"j":7,"m":0.75,"t":"0.71"},{"i":7,"j":8,"m":0.82,"t":"0.78"},{"i":8,"j":9,"m":1.01,"t":"0.86"},{"i":9,"j":9,"m":1.16,"t":"1.16"}]},"layer":[{"mark":"rect","encoding":{"y":{"field":"i","type":"quantitative","scale":{"domain":[0,9]},"axis":null},"y2":{"field":"j"},"color":{"field":"m","type":"quantitative","scale":{"scheme":"viridis","domain":[0.12,1.16]},"legend":null}}},{"mark":{"type":"text","dx":3,"baseline":"middle","font":"Liberation Sans","fontSize":9.5,"color":"#444"},"encoding":{"y":{"field":"i","type":"quantitative"},"x":{"datum":1,"scale":{"domain":[0,1]},"axis":null},"text":{"field":"t"}}}]}]},
{"width":1,"height":356,"data":{"values":[]},"mark":"rect"},
{"bounds":"flush","spacing":0,"resolve":{"scale":{"color":"independent"}},"hconcat":[{"width":1,"height":1,"data":{"values":[]},"mark":"rect"},
{"width":451,"height":258,"view":{"stroke":"#bbb"},"title":"W-24","layer":[{"data":{"name":"e"},"mark":{"type":"line","interpolate":"catmull-rom-closed","filled":true,"clip":true,"strokeWidth":0},"encoding":{"x":{"field":"x","type":"quantitative","scale":{"domain":[0,1]},"axis":{"values":[0,0.2,0.4,0.6,0.8,1],"format":".1f","title":"X","titlePadding":0,"labelPadding":-1}},"y":{"field":"y","type":"quantitative","scale":{"domain":[0,1]},"axis":{"values":[0,0.2,0.4,0.6,0.8,1],"format":".1f","title":"Y","titlePadding":1}},"order":{"value":null},"detail":{"field":"g"},"color":{"field":"v","type":"quantitative","scale":{"scheme":"viridis","domain":[0.12,0.85]},"legend":null}}},
{"data":{"values":[{"x":0.038,"t":"("},{"x":0.083,"t":") Wuxi Anti-fouling Coating (24 months)"}]},"mark":{"type":"text"},"encoding":{"x":{"field":"x","type":"quantitative"},"y":{"datum":-0.233},"text":{"field":"t"}}},
{"data":{"values":[{"x":0.057,"t":"e"}]},"mark":{"type":"text","fontWeight":"bold"},"encoding":{"x":{"field":"x","type":"quantitative"},"y":{"datum":-0.233},"text":{"field":"t"}}}]},
{"width":28,"height":1,"data":{"values":[]},"mark":"rect"},
{"width":12,"height":258,"view":{"stroke":"#bbb"},"data":{"values":[{"i":0,"j":1,"m":0.22,"t":"0.12"},{"i":1,"j":2,"m":0.38,"t":"0.32"},{"i":2,"j":3,"m":0.48,"t":"0.43"},{"i":3,"j":4,"m":0.54,"t":"0.52"},{"i":4,"j":5,"m":0.59,"t":"0.56"},{"i":5,"j":6,"m":0.65,"t":"0.62"},{"i":6,"j":7,"m":0.69,"t":"0.67"},{"i":7,"j":8,"m":0.73,"t":"0.71"},{"i":8,"j":9,"m":0.8,"t":"0.75"},{"i":9,"j":9,"m":0.85,"t":"0.85"}]},"layer":[{"mark":"rect","encoding":{"y":{"field":"i","type":"quantitative","scale":{"domain":[0,9]},"axis":null},"y2":{"field":"j"},"color":{"field":"m","type":"quantitative","scale":{"scheme":"viridis","domain":[0.12,0.85]},"legend":null}}},{"mark":{"type":"text","dx":3,"baseline":"middle","font":"Liberation Sans","fontSize":9.5,"color":"#444"},"encoding":{"y":{"field":"i","type":"quantitative"},"x":{"datum":1,"scale":{"domain":[0,1]},"axis":null},"text":{"field":"t"}}}]}]}
]}
